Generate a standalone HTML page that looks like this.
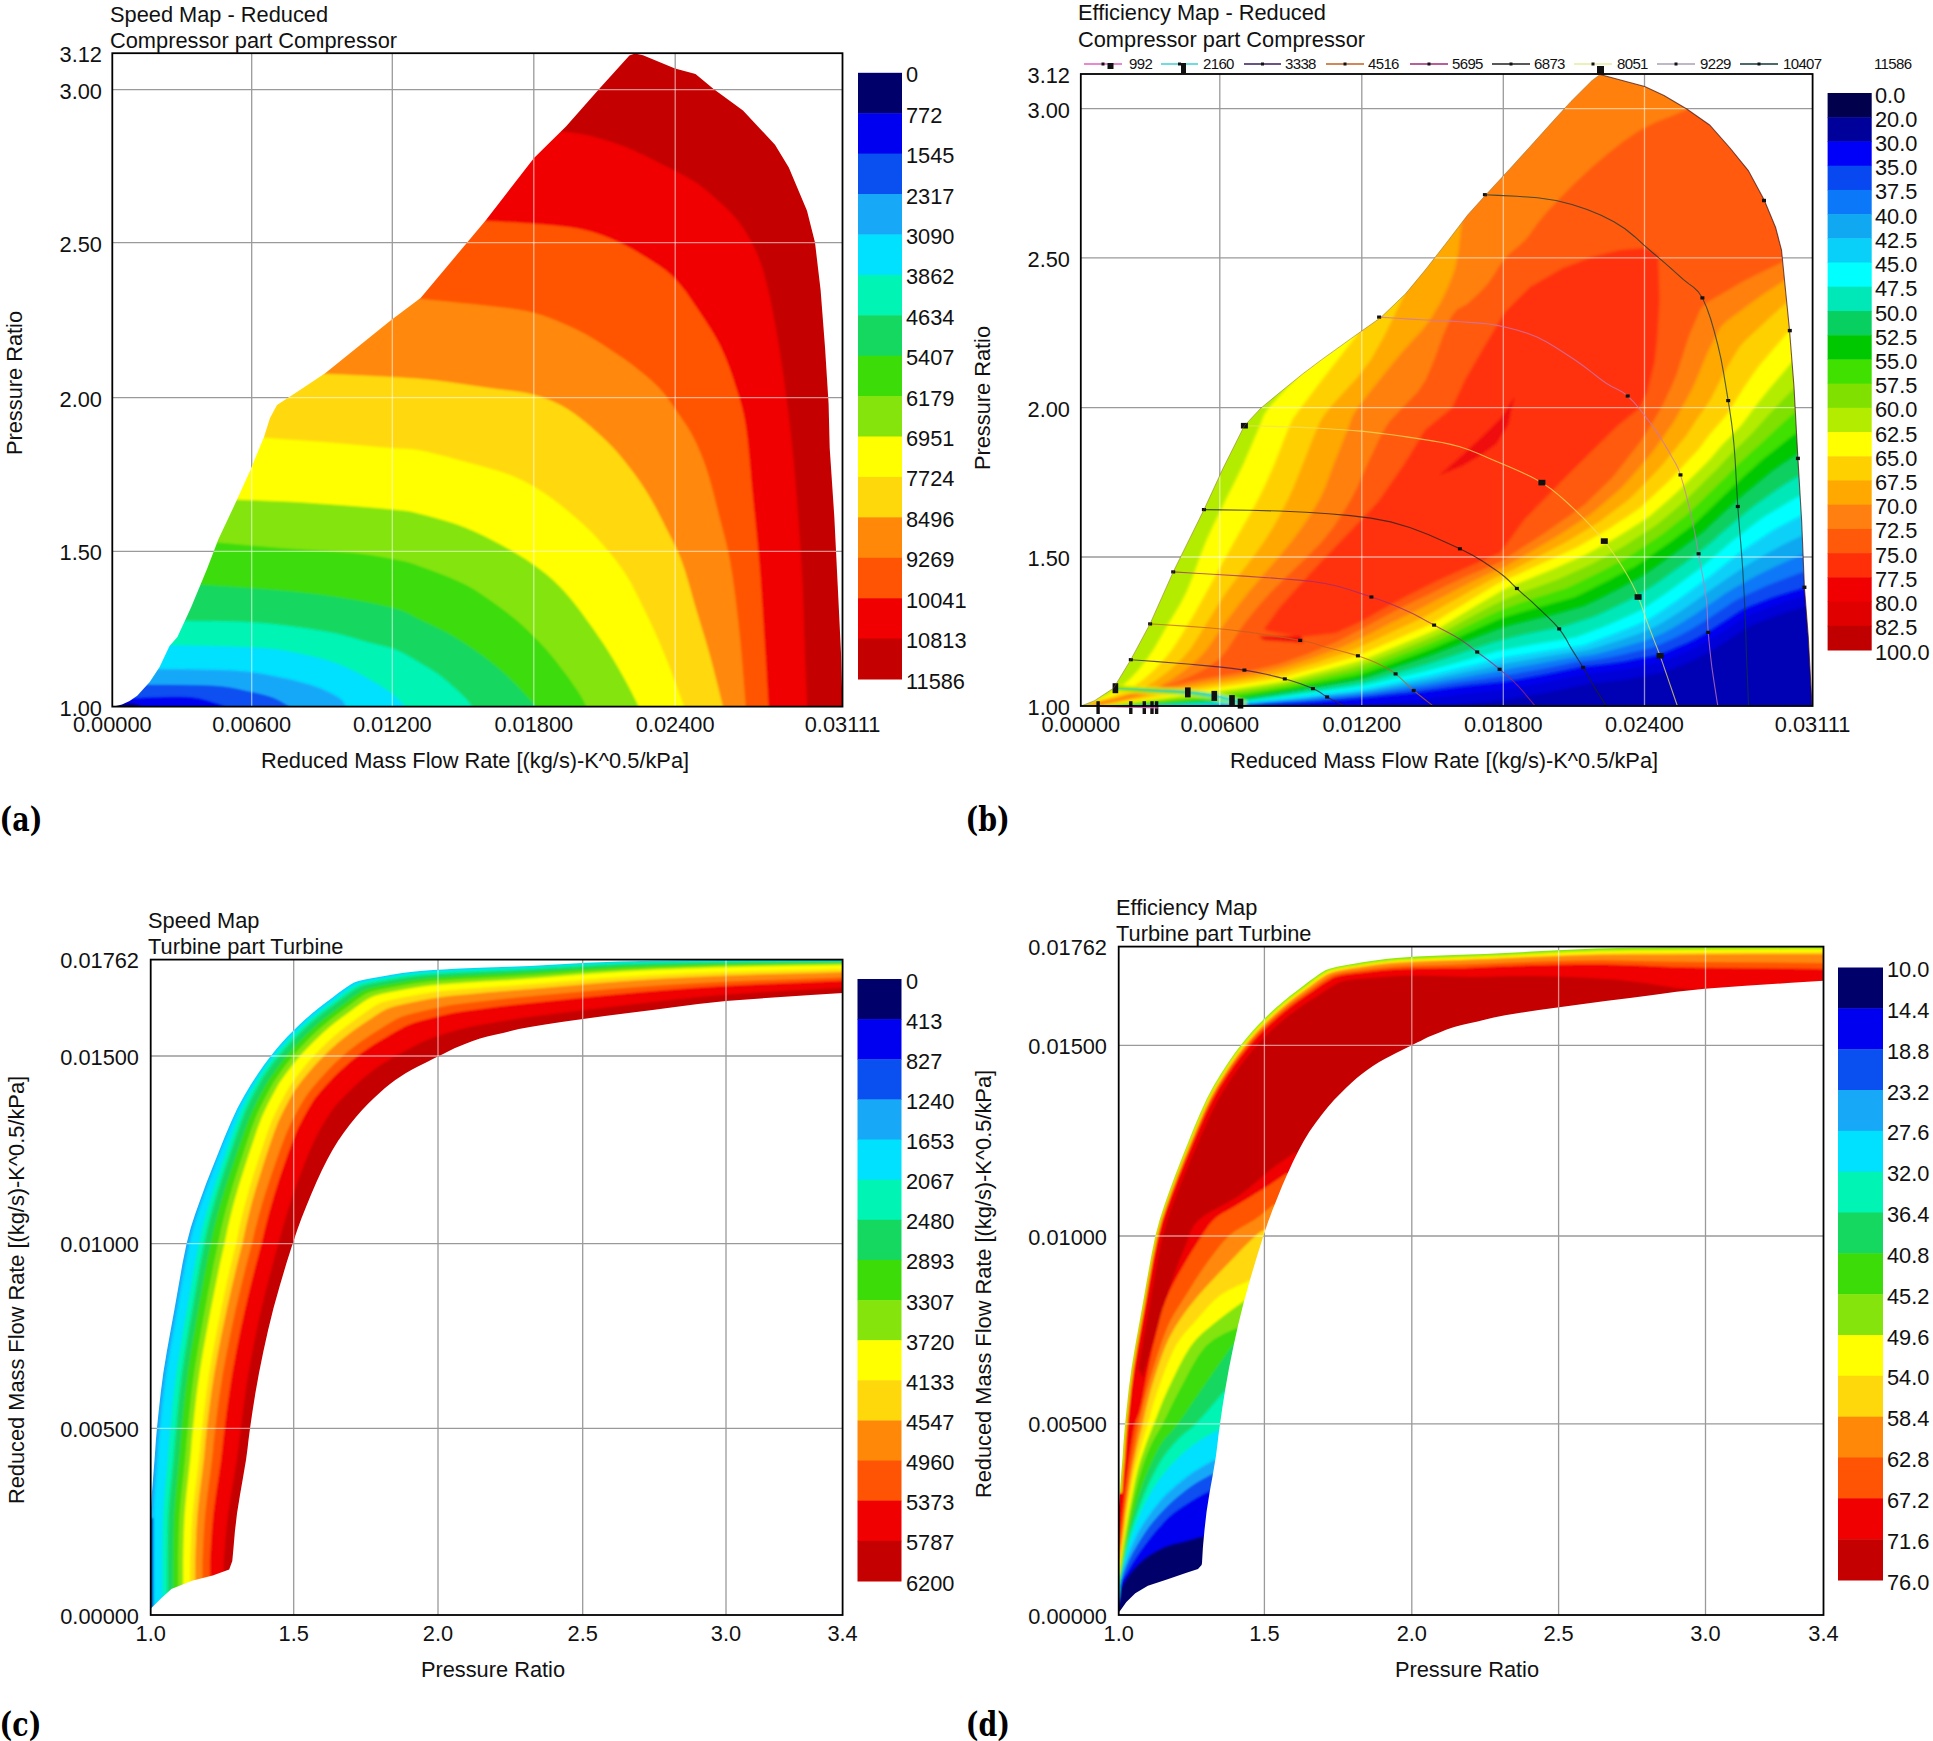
<!DOCTYPE html>
<html><head><meta charset="utf-8"><title>Compressor and turbine maps</title>
<style>
html,body{margin:0;padding:0;background:#fff;}
svg{display:block;font-family:"Liberation Sans",sans-serif;fill:#111;}
.lab{font-family:"DejaVu Serif Condensed","DejaVu Serif","Liberation Serif",serif;font-stretch:condensed;font-weight:bold;fill:#000;}
</style></head><body>
<svg width="1933" height="1741" viewBox="0 0 1933 1741">
<rect width="1933" height="1741" fill="#fff"/>
<defs><filter id="soft" x="-5%" y="-5%" width="110%" height="110%"><feGaussianBlur stdDeviation="0.9"/></filter><filter id="softb" x="-5%" y="-5%" width="110%" height="110%"><feGaussianBlur stdDeviation="1.6"/></filter></defs>
<defs><clipPath id="clipA"><polygon points="114,706.6 122,704.5 129.6,701 137.2,695.8 149.7,682 159.6,667 169.5,646 177.4,637 191,607.6 207,569 218.4,539.3 236.6,500.6 250,471 264,437 270,418 277,405 300,390 325.5,373 390.6,320.5 420.6,298 452.5,260 486,220 534,158 566,126.5 600,88 629.4,55.5 635,53.5 643,55.2 675,68.5 695.5,74 713.6,89 743,110.6 775,144.7 788.8,167.5 807,210.7 815,242.6 820.6,290 825,347 828.6,404 829.7,448 834.3,516.6 837.7,585 841,653 842.5,706.6"/></clipPath></defs>
<line x1="251.7" y1="53.2" x2="251.7" y2="706.6" stroke="#9a9a9a" stroke-width="1.3"/>
<line x1="392.3" y1="53.2" x2="392.3" y2="706.6" stroke="#9a9a9a" stroke-width="1.3"/>
<line x1="533.8" y1="53.2" x2="533.8" y2="706.6" stroke="#9a9a9a" stroke-width="1.3"/>
<line x1="675.2" y1="53.2" x2="675.2" y2="706.6" stroke="#9a9a9a" stroke-width="1.3"/>
<line x1="112.3" y1="89.6" x2="842.5" y2="89.6" stroke="#9a9a9a" stroke-width="1.3"/>
<line x1="112.3" y1="242.6" x2="842.5" y2="242.6" stroke="#9a9a9a" stroke-width="1.3"/>
<line x1="112.3" y1="397.6" x2="842.5" y2="397.6" stroke="#9a9a9a" stroke-width="1.3"/>
<line x1="112.3" y1="551.4" x2="842.5" y2="551.4" stroke="#9a9a9a" stroke-width="1.3"/>
<g clip-path="url(#clipA)"><g filter="url(#soft)">
<rect x="60" y="0" width="860" height="780" fill="#c40000"/>
<polygon points="496.6,131 556.6,131 560.8,131.5 566.6,132.2 573.5,133 580.9,134.2 588,135.6 595.1,137.4 602.5,139.4 610.1,141.8 617.7,144.3 625,147 632,149.9 638.8,153 645.5,156.2 652.2,159.6 659,163 666,166.5 673.1,170.1 680.2,173.7 686.9,177.4 693,181 698.3,184.5 703,188 707.3,191.4 711.6,195.1 716,199 720.6,203.1 725.3,207.4 730,211.9 734.4,216.7 738.7,222 742.8,227.8 746.7,234 750.4,240.5 753.9,247.2 757,254 759.7,260.8 762,267.6 764.1,274.7 766,282.1 768,290 770,298.6 771.8,307.7 773.6,317.2 775.4,326.7 777,336 778.6,345.2 780,354.6 781.4,363.8 782.8,372.9 784,381.5 785.1,389.6 786.2,397.3 787.1,404.8 788.1,412.3 789,420 789.9,427.6 790.8,435.1 791.6,442.7 792.4,450.9 793.3,460 794.2,470.1 795.2,480.9 796.1,492.3 797.1,504.3 798,516.6 798.9,529.5 799.9,543.1 800.8,557.1 801.7,571.2 802.4,585 803,598.9 803.5,612.9 803.9,626.8 804.3,640.3 804.7,653 805.2,665.5 805.7,678.1 806.2,689.8 806.7,699.6 807,706.7 807,760 50,760 50,131" fill="#f00000" stroke="#f00000" stroke-width="0.6"/>
<polygon points="426,221 486,221 492.6,221.4 501.9,221.9 512.7,222.5 523.8,223.2 534,224 543.4,224.8 552.7,225.6 561.9,226.5 570.7,227.6 579,229 586.6,230.7 593.6,232.6 600.2,234.8 606.8,237.2 613.5,240 620.5,243.2 627.5,246.8 634.5,250.6 641.2,254.6 647.6,258.5 653.5,262.3 659.2,265.9 664.5,269.7 669.8,274 675,279 680.2,284.9 685.4,291.6 690.4,298.8 695.3,306 700,313 704.5,319.7 708.8,326.4 712.9,333.1 716.9,339.9 720.5,347 723.8,354.3 726.9,361.8 729.8,369.4 732.5,377.2 735,385 737.4,392.5 739.7,399.7 741.8,407.2 743.7,415.6 745.5,425.5 747.1,437.4 748.5,450.8 749.8,465.2 751,479.7 752.3,493.8 753.7,507.4 755.1,521.1 756.5,534.7 757.8,548.3 759,562 760.1,575.5 761,589 761.9,602.5 762.8,616.2 763.7,630.4 764.7,646.4 765.8,664 766.8,681.3 767.7,696.2 768.3,706.7 768.3,760 50,760 50,221" fill="#ff5404" stroke="#ff5404" stroke-width="0.6"/>
<polygon points="360,299 420,299 429.6,300 443.4,301.3 459.1,302.9 474.7,304.5 488,306 498.6,307.2 508,308.3 516.7,309.4 525.2,310.9 534,313 543.2,315.8 552.6,319.3 561.8,323.1 570.7,327 579,331 586.8,335.1 594.1,339.4 601.1,343.8 607.5,348.1 613.5,352 618.8,355.5 623.3,358.6 627.5,361.6 631.7,364.6 636,368 640.6,371.7 645.4,375.5 650.1,379.5 654.7,383.7 659,388 663,392.5 666.7,397.3 670.2,402.1 673.6,407.1 677,412 680.4,416.8 683.6,421.5 686.8,426.3 690,431.4 693,437 696,443 698.8,449.4 701.6,456.2 704.4,463.4 707,471 709.5,479.3 712,488.2 714.4,497.4 716.7,506.8 719,516 721.3,524.8 723.6,533.3 725.8,542 727.9,551.4 730,562 732,574.1 733.9,587.2 735.7,601.1 737.4,615.5 739,630 740.6,646 742.1,663.7 743.5,681.1 744.7,696.1 745.5,706.7 745.5,760 50,760 50,299" fill="#ff8808" stroke="#ff8808" stroke-width="0.6"/>
<polygon points="265,374 325,374 338.4,374.6 357.5,375.4 379.4,376.5 401.2,377.7 420,379 435.7,380.6 450.2,382.4 463.7,384.4 476.2,386.3 488,388 498.8,389.4 508.6,390.6 517.5,391.7 525.9,393.1 534,395 541.6,397.2 548.5,399.7 555,402.5 561.4,405.7 568,409.6 575,414.3 582.1,419.8 589.2,425.6 595.9,431.5 602,437 607.3,442 612,446.8 616.4,451.6 620.6,456.6 625,462 629.6,467.9 634.3,474.1 638.9,480.6 643.4,487.2 647.6,493.8 651.6,500.5 655.3,507.3 658.9,514.2 662.4,521.1 665.8,528 669.2,534.6 672.5,541.1 675.7,547.6 678.8,554.5 681.8,562 684.7,570.4 687.4,579.4 690.1,588.8 692.7,598.3 695.4,607.6 698.1,616.6 700.8,625.4 703.5,634.3 706.3,643.4 709,653 712,664.1 715.2,676.5 718.3,688.7 720.9,699.3 722.8,706.7 722.8,760 50,760 50,374" fill="#ffd80c" stroke="#ffd80c" stroke-width="0.6"/>
<polygon points="204,438 264,438 272.6,438.6 284.8,439.5 299,440.5 313.8,441.5 327.6,442.6 341,443.7 355,445 368.8,446.2 381.4,447.4 392,448.3 399.6,448.8 405,449 409.3,449.2 413.9,449.6 420,450.6 428,452.3 436.9,454.4 446.5,456.8 456.1,459.4 465.5,462 474.8,464.5 484.3,467.1 493.6,469.7 502.6,472.6 511,475.6 518.5,478.8 525.4,482.1 531.9,485.7 538.4,489.5 545,493.8 552,498.7 559.3,504.2 566.4,510 573.2,515.7 579.3,521 584.6,525.8 589.2,530.2 593.5,534.5 597.6,539.1 602,544 606.7,549.4 611.4,555.1 616.1,561.1 620.7,567.2 625,573.5 629,580 632.7,586.8 636.2,593.7 639.6,600.7 643,607.6 646.4,614.4 649.7,621.3 652.9,628.1 656,635 659,641.8 661.9,648.7 664.8,655.6 667.5,662.6 670.2,669.4 672.7,676 675.3,682.9 677.9,690 680.4,696.8 682.5,702.6 684,706.7 684,760 50,760 50,438" fill="#ffff00" stroke="#ffff00" stroke-width="0.6"/>
<polygon points="176.6,500 236.6,500 245.6,500.3 258.1,500.8 273,501.4 289,502.1 305,503 322.2,504.2 341.3,505.6 360.6,507.1 378.1,508.5 392,509.8 401.1,510.7 406.6,511.3 410.4,511.9 414.2,512.8 420,514.3 428,516.3 436.9,518.7 446.5,521.4 456.1,524.5 465.5,528 474.8,532 484.3,536.4 493.6,541.2 502.6,546 511,550.7 518.7,555.3 526,559.8 532.7,564.4 539.1,569 545,573.5 550.3,577.9 555,582.2 559.3,586.5 563.6,591 568,596 572.6,601.5 577.3,607.5 582,613.7 586.4,619.9 590.7,625.8 594.7,631.4 598.4,636.9 602.1,642.2 605.6,647.6 609,653 612.4,658.5 615.7,664 618.9,669.6 622,675.1 625,680.5 628.1,686.2 631.2,692.3 634.2,698.2 636.7,703.2 638.5,706.7 638.5,760 50,760 50,500" fill="#84e40c" stroke="#84e40c" stroke-width="0.6"/>
<polygon points="157,542.8 217,542.8 225.8,543.6 238.2,544.7 252.6,546 267.7,547.3 282,548.5 295.8,549.4 310.2,550.3 324.5,551.1 338.1,552 350.4,553 361.3,554.2 371.3,555.6 380.4,557.1 388.6,558.6 396,560 401.8,561.2 406.1,562.1 409.9,563.2 414.2,564.6 420,566.7 427.9,569.5 437.2,573 447.1,576.8 456.8,580.9 465.5,585 473.2,589.3 480.5,593.9 487.4,598.7 493.8,603.3 499.7,607.6 505,611.4 509.6,615 513.9,618.4 518.1,621.9 522.4,625.8 527,630.1 531.6,634.6 536.3,639.3 540.8,644 545,648.6 549,653.2 552.8,657.7 556.4,662.3 559.9,666.9 563.4,671.4 566.9,676.1 570.4,680.9 573.7,685.7 576.7,690.1 579.3,694 581.3,697.4 583,700.4 584.2,703 585.2,705.1 586,706.7 586,760 50,760 50,542.8" fill="#3cdc08" stroke="#3cdc08" stroke-width="0.6"/>
<polygon points="140,585 200,585 207.9,585.5 218.9,586.2 231.8,587 245.6,587.9 259,589 272.2,590.1 286.1,591.3 300.3,592.7 314.4,594.2 328,596 341.7,598.1 355.7,600.4 369.2,603 381.6,605.5 392,608 399.8,610.3 405.5,612.6 410.1,614.8 414.6,617.3 420,620 426.4,623 433.2,626.2 440.1,629.5 447.1,633.1 454,637 461,641.3 468.1,645.9 475.2,650.7 481.9,655.5 488,660 493.4,664.2 498.2,668.3 502.7,672.2 506.9,676.1 511,680 515.1,684 519.1,688.2 522.8,692.3 526.2,695.9 529,699 531.2,701.4 532.9,703.3 534.2,704.7 535.2,705.8 536,706.7 536,760 50,760 50,585" fill="#14d860" stroke="#14d860" stroke-width="0.6"/>
<polygon points="126,621 186,621 196,621.2 210.2,621.3 226.6,621.6 243.5,622.1 259,623 273.4,624.3 288,626 302.3,627.9 315.6,630 327.6,632 338,634.1 347.2,636.4 355.5,638.8 363,641 370,643 376.3,644.6 381.7,645.8 386.5,647 391.2,648.3 396,650 400.9,652.2 405.8,654.7 410.6,657.4 415.3,660.2 420,663 424.7,665.8 429.3,668.6 433.9,671.5 438.5,674.6 443,678 447.7,681.9 452.6,686.2 457.3,690.6 461.6,694.6 465,698 467.5,700.6 469.2,702.7 470.4,704.4 471.3,705.7 472,706.7 472,760 50,760 50,621" fill="#00f4b4" stroke="#00f4b4" stroke-width="0.6"/>
<polygon points="109.5,645.5 169.5,645.5 182.4,645.8 200.9,646.1 222,646.6 242.5,647.2 259,648 271.2,649.1 281.1,650.3 289.5,651.8 297.2,653.3 305,655 312.8,656.7 320,658.5 326.9,660.5 333.5,662.6 340,665 346.4,667.7 352.7,670.7 358.8,673.8 364.6,677 370,680 375.1,682.9 379.8,685.7 384.2,688.5 388.3,691.3 392,694 395.4,696.8 398.5,699.8 401.2,702.6 403.4,705 405,706.7 405,760 50,760 50,645.5" fill="#00e0ff" stroke="#00e0ff" stroke-width="0.6"/>
<polygon points="97.7,669.3 157.7,669.3 169,669.4 185.2,669.6 203.7,669.9 221.7,670.3 236.6,671 248,672 257.7,673.3 266.3,674.8 274.2,676.4 282,678 289.7,679.6 296.9,681.4 303.7,683.2 310.1,685 316,687 321.6,689.1 326.8,691.4 331.5,693.7 335.6,695.9 339,698 341.5,700 343.2,702.1 344.3,704 345.1,705.6 345.8,706.7 345.8,760 50,760 50,669.3" fill="#18a8f8" stroke="#18a8f8" stroke-width="0.6"/>
<polygon points="87.3,685 147.3,685 156.9,685.1 170.7,685.1 186.5,685.2 201.7,685.5 214,686 223,686.8 230.4,687.8 236.6,689 242.3,690.3 248,691.5 253.7,692.7 259.1,693.9 264.1,695.2 268.7,696.5 273,698 277,699.7 280.8,701.7 284.2,703.7 287,705.5 289,706.7 289,760 50,760 50,685" fill="#0a50f0" stroke="#0a50f0" stroke-width="0.6"/>
<polygon points="74,698.3 134,698.3 140.6,698.1 150.2,697.7 161.1,697.3 171.6,697 180,697 186,697.2 190.6,697.5 194.6,698 198.3,698.6 202.4,699.5 207.3,700.8 212.5,702.4 217.6,704.1 221.9,705.6 225,706.7 225,760 50,760 50,698.3" fill="#0000f0" stroke="#0000f0" stroke-width="0.6"/>
<polygon points="64,704 124,704 125.2,704 127,703.9 129,703.8 131.1,703.8 133,704 134.9,704.4 137,705 139,705.7 140.8,706.3 142,706.7 142,760 50,760 50,704" fill="#00006a" stroke="#00006a" stroke-width="0.6"/>
</g></g>
<g clip-path="url(#clipA)" stroke="#ffffff" stroke-opacity="0.55" stroke-width="1.3">
<line x1="251.7" y1="53.2" x2="251.7" y2="706.6"/>
<line x1="392.3" y1="53.2" x2="392.3" y2="706.6"/>
<line x1="533.8" y1="53.2" x2="533.8" y2="706.6"/>
<line x1="675.2" y1="53.2" x2="675.2" y2="706.6"/>
<line x1="112.3" y1="89.6" x2="842.5" y2="89.6"/>
<line x1="112.3" y1="242.6" x2="842.5" y2="242.6"/>
<line x1="112.3" y1="397.6" x2="842.5" y2="397.6"/>
<line x1="112.3" y1="551.4" x2="842.5" y2="551.4"/>
</g>
<rect x="112.3" y="53.2" width="730.2" height="653.4" fill="none" stroke="#000" stroke-width="1.8"/>
<text x="110" y="22" font-size="21.8" text-anchor="start">Speed Map - Reduced</text>
<text x="110" y="48" font-size="21.8" text-anchor="start">Compressor part Compressor</text>
<text x="102" y="62.2" font-size="21.8" text-anchor="end">3.12</text>
<text x="102" y="98.6" font-size="21.8" text-anchor="end">3.00</text>
<text x="102" y="251.6" font-size="21.8" text-anchor="end">2.50</text>
<text x="102" y="406.6" font-size="21.8" text-anchor="end">2.00</text>
<text x="102" y="560.4" font-size="21.8" text-anchor="end">1.50</text>
<text x="102" y="715.6" font-size="21.8" text-anchor="end">1.00</text>
<text x="112.3" y="731.5" font-size="21.8" text-anchor="middle">0.00000</text>
<text x="251.7" y="731.5" font-size="21.8" text-anchor="middle">0.00600</text>
<text x="392.3" y="731.5" font-size="21.8" text-anchor="middle">0.01200</text>
<text x="533.8" y="731.5" font-size="21.8" text-anchor="middle">0.01800</text>
<text x="675.2" y="731.5" font-size="21.8" text-anchor="middle">0.02400</text>
<text x="842.5" y="731.5" font-size="21.8" text-anchor="middle">0.03111</text>
<text x="475" y="768" font-size="21.8" text-anchor="middle">Reduced Mass Flow Rate [(kg/s)-K^0.5/kPa]</text>
<text transform="translate(21.5,383) rotate(-90)" font-size="21.8" text-anchor="middle">Pressure Ratio</text>
<rect x="858" y="72.8" width="44" height="40.9" fill="#00006a"/>
<rect x="858" y="113.2" width="44" height="40.9" fill="#0000f0"/>
<rect x="858" y="153.6" width="44" height="40.9" fill="#0a50f0"/>
<rect x="858" y="194" width="44" height="40.9" fill="#18a8f8"/>
<rect x="858" y="234.5" width="44" height="40.9" fill="#00e0ff"/>
<rect x="858" y="274.9" width="44" height="40.9" fill="#00f4b4"/>
<rect x="858" y="315.3" width="44" height="40.9" fill="#14d860"/>
<rect x="858" y="355.7" width="44" height="40.9" fill="#3cdc08"/>
<rect x="858" y="396.1" width="44" height="40.9" fill="#84e40c"/>
<rect x="858" y="436.5" width="44" height="40.9" fill="#ffff00"/>
<rect x="858" y="476.9" width="44" height="40.9" fill="#ffd80c"/>
<rect x="858" y="517.3" width="44" height="40.9" fill="#ff8808"/>
<rect x="858" y="557.8" width="44" height="40.9" fill="#ff5404"/>
<rect x="858" y="598.2" width="44" height="40.9" fill="#f00000"/>
<rect x="858" y="638.6" width="44" height="40.9" fill="#c40000"/>
<text x="906" y="82.3" font-size="21.8" text-anchor="start">0</text>
<text x="906" y="122.7" font-size="21.8" text-anchor="start">772</text>
<text x="906" y="163.1" font-size="21.8" text-anchor="start">1545</text>
<text x="906" y="203.5" font-size="21.8" text-anchor="start">2317</text>
<text x="906" y="244" font-size="21.8" text-anchor="start">3090</text>
<text x="906" y="284.4" font-size="21.8" text-anchor="start">3862</text>
<text x="906" y="324.8" font-size="21.8" text-anchor="start">4634</text>
<text x="906" y="365.2" font-size="21.8" text-anchor="start">5407</text>
<text x="906" y="405.6" font-size="21.8" text-anchor="start">6179</text>
<text x="906" y="446" font-size="21.8" text-anchor="start">6951</text>
<text x="906" y="486.4" font-size="21.8" text-anchor="start">7724</text>
<text x="906" y="526.8" font-size="21.8" text-anchor="start">8496</text>
<text x="906" y="567.3" font-size="21.8" text-anchor="start">9269</text>
<text x="906" y="607.7" font-size="21.8" text-anchor="start">10041</text>
<text x="906" y="648.1" font-size="21.8" text-anchor="start">10813</text>
<text x="906" y="688.5" font-size="21.8" text-anchor="start">11586</text>
<text transform="translate(-0.4,831) scale(0.91,1)" font-size="32.8" class="lab">(a)</text>
<defs><clipPath id="clipB"><polygon points="1080.8,706 1094.2,700.9 1113.5,688.2 1130.8,659.7 1150,623.9 1173.2,571.9 1204,509.6 1223.2,468 1244.4,425.7 1261,408 1282,390.7 1302.6,374 1321.3,359.9 1356,335 1380.7,317.6 1405.5,293.8 1426,269 1447,242 1467.6,215 1485.2,195.5 1509,169.7 1529.7,147 1550.4,124 1571,101.4 1591.8,80.7 1600,74.5 1644.7,86.4 1664,95.5 1686.8,109 1709.6,125 1730,148 1748.3,170.6 1764.2,200 1775.6,227.5 1781.5,250 1785.5,290 1789.5,330 1794,387 1797.9,458.4 1801.7,521.9 1804.4,587.3 1808.3,637.4 1812,706"/></clipPath></defs>
<line x1="1219.8" y1="74" x2="1219.8" y2="706" stroke="#9a9a9a" stroke-width="1.3"/>
<line x1="1361.8" y1="74" x2="1361.8" y2="706" stroke="#9a9a9a" stroke-width="1.3"/>
<line x1="1503.3" y1="74" x2="1503.3" y2="706" stroke="#9a9a9a" stroke-width="1.3"/>
<line x1="1644.5" y1="74" x2="1644.5" y2="706" stroke="#9a9a9a" stroke-width="1.3"/>
<line x1="1080.8" y1="108.7" x2="1812.6" y2="108.7" stroke="#9a9a9a" stroke-width="1.3"/>
<line x1="1080.8" y1="257.9" x2="1812.6" y2="257.9" stroke="#9a9a9a" stroke-width="1.3"/>
<line x1="1080.8" y1="407.6" x2="1812.6" y2="407.6" stroke="#9a9a9a" stroke-width="1.3"/>
<line x1="1080.8" y1="557" x2="1812.6" y2="557" stroke="#9a9a9a" stroke-width="1.3"/>
<g clip-path="url(#clipB)"><g filter="url(#softb)">
<rect x="1000" y="0" width="900" height="780" fill="#0000b4"/>
<polygon points="1000,720 1206,724.5 1254,722.3 1312,720 1367.5,715.5 1427.4,709.3 1465.9,704 1509,699.4 1551,692 1586,684.6 1625,679.9 1665.7,672 1695.4,659.6 1714,649.4 1750,626 1781,614 1811,604.9 1836,598 1950,598 1950,0 1000,0" fill="#0000d8"/>
<polygon points="1000,720 1203,714.5 1251,712.3 1309,710 1364.5,705.5 1424.4,699.3 1462.9,694 1506,689.4 1548,682 1583,674.6 1622,669.9 1662.7,662 1692.4,649.6 1711,639.4 1747,616 1778,604 1808,594.9 1833,588 1950,588 1950,0 1000,0" fill="#0000f0"/>
<polygon points="1000,720 1200,706.5 1200,706.5 1200,706.5 1200,706.5 1200,706.5 1200,706.5 1200,706.5 1200,706.5 1204.8,706.3 1217.2,705.7 1229.6,705.1 1242,704.6 1254.4,704 1266.8,703.6 1279.3,703.1 1291.7,702.6 1304.2,702.1 1316.2,701.2 1328.2,700.2 1340.2,699.2 1352.1,698.3 1364.1,697.2 1375.8,696 1387.5,694.8 1399.3,693.6 1411,692.4 1422.7,691.1 1434.1,689.6 1445.4,688 1456.8,686.4 1468.4,685.1 1480.1,683.8 1491.8,682.6 1503.5,681.3 1514.5,679.4 1525.5,677.4 1536.5,675.5 1547.4,673.5 1558.1,671.2 1568.8,669 1579.5,666.7 1591,665.3 1602.5,663.9 1614.1,662.5 1625.2,660.7 1636.1,658.6 1646.9,656.5 1657.8,654.4 1667.2,650.9 1676.3,647.1 1685.5,643.2 1694.2,639 1702.5,634.4 1710.7,629.6 1718.5,624.5 1726.4,619.4 1734.2,614.3 1742.1,609.2 1751,605.3 1760.4,601.7 1769.7,598 1779.3,594.7 1789.2,591.7 1799.2,588.7 1809.2,585.7 1819.3,582.9 1829.5,580.1 1839.6,577.3 1849.8,574.5 1859.9,571.7 1870.1,568.9 1880.2,566.1 1890.3,563.3 1900.5,560.5 1910.6,557.7 1920.8,554.9 1930.9,552.1 1941.1,549.3 1951.2,546.5 1961.4,543.7 1971.5,540.9 1981.6,538.1 1991.8,535.3 2001.9,532.5 2012.1,529.7 2022.2,526.9 2032.4,524.1 2042.5,521.3 2052.7,518.5 2062.8,515.7 2072.9,512.9 1950,512.9 1950,0 1000,0" fill="#0848f0" stroke="#0848f0" stroke-width="0.6"/>
<polygon points="1000,720 1188.9,706.4 1188.9,706.4 1188.9,706.4 1188.9,706.4 1189.5,706.4 1192.3,706.3 1195.1,706.2 1197.8,706.1 1204.4,705.8 1216.8,705.3 1229.2,704.8 1241.6,704.2 1253.8,703.5 1266.1,702.8 1278.3,702.1 1290.6,701.4 1302.8,700.7 1314.7,699.7 1326.6,698.6 1338.5,697.5 1350.3,696.5 1362.2,695.3 1373.8,694 1385.2,692.5 1396.7,691.1 1408.2,689.6 1419.7,688.1 1430.9,686.4 1442.1,684.6 1453.2,682.8 1464.6,681.2 1475.9,679.7 1487.3,678.1 1498.7,676.5 1509.6,674.4 1520.4,672.4 1531.5,670.5 1542.5,668.5 1553.3,666.4 1564.1,664.2 1574.9,662.1 1586.4,660.6 1597.8,659.1 1608.8,657.2 1619.6,655 1630,652.5 1640.5,650.1 1651,647.6 1660.3,644 1669.4,640.1 1678.2,636 1686.7,631.5 1694.9,626.8 1702.9,621.9 1710.7,616.7 1718.4,611.5 1726.2,606.3 1733.9,601.1 1742.4,596.7 1751.2,592.5 1760,588.4 1769,584.4 1778.4,580.8 1787.8,577.3 1797.2,573.8 1806.8,570.4 1816.4,567 1826.1,563.8 1835.9,560.6 1845.6,557.4 1855.4,554.3 1865.3,551.2 1875.1,548.1 1885,545 1894.8,541.9 1904.7,538.8 1914.5,535.7 1924.4,532.6 1934.2,529.5 1944.1,526.4 1953.9,523.3 1963.7,520.2 1973.6,517.2 1983.4,514.1 1993.3,511 2003.1,507.9 2013,504.8 2022.8,501.7 2032.7,498.6 2042.5,495.5 2052.4,492.4 1950,492.4 1950,0 1000,0" fill="#0a78f8" stroke="#0a78f8" stroke-width="0.6"/>
<polygon points="1000,720 1177.8,706.3 1177.8,706.3 1177.8,706.3 1177.8,706.3 1179,706.2 1184.5,706.1 1190.1,705.9 1195.7,705.7 1203.9,705.4 1216.4,704.9 1228.8,704.4 1241.3,703.9 1253.3,703 1265.4,702.1 1277.4,701.2 1289.4,700.3 1301.5,699.3 1313.2,698.2 1325,697 1336.8,695.8 1348.5,694.7 1360.3,693.5 1371.7,692 1383,690.2 1394.2,688.5 1405.4,686.8 1416.7,685.1 1427.7,683.2 1438.7,681.3 1449.6,679.3 1460.7,677.4 1471.8,675.5 1482.9,673.6 1493.9,671.8 1504.6,669.5 1515.3,667.3 1526.4,665.4 1537.5,663.5 1548.4,661.5 1559.3,659.5 1570.3,657.5 1581.7,656 1593.1,654.4 1603.6,652 1613.9,649.3 1624,646.5 1634.1,643.6 1644.2,640.8 1653.4,637.1 1662.5,633.2 1670.9,628.7 1679.2,624 1687.2,619.1 1695.1,614.1 1702.8,608.8 1710.4,603.5 1718.1,598.2 1725.8,592.9 1733.8,588 1742.1,583.4 1750.4,578.7 1758.8,574.2 1767.5,570 1776.3,565.8 1785.2,561.8 1794.2,557.8 1803.3,553.9 1812.6,550.3 1822,546.7 1831.3,543.1 1840.8,539.7 1850.3,536.3 1859.9,532.9 1869.4,529.5 1879,526.1 1888.5,522.7 1898.1,519.3 1907.6,515.9 1917.2,512.5 1926.7,509.1 1936.3,505.7 1945.8,502.3 1955.4,499 1965,495.6 1974.5,492.2 1984.1,488.8 1993.6,485.4 2003.2,482 2012.7,478.6 2022.3,475.2 2031.8,471.8 1950,471.8 1950,0 1000,0" fill="#10a8f0" stroke="#10a8f0" stroke-width="0.6"/>
<polygon points="1000,720 1166.7,706.2 1166.7,706.2 1166.7,706.2 1166.7,706.2 1168.5,706.1 1176.8,705.8 1185.2,705.6 1193.5,705.3 1203.5,704.9 1216,704.5 1228.4,704 1240.9,703.5 1252.8,702.4 1264.6,701.3 1276.5,700.2 1288.3,699.1 1300.1,698 1311.7,696.7 1323.4,695.4 1335.1,694.1 1346.7,692.9 1358.4,691.6 1369.7,689.9 1380.7,688 1391.7,686 1402.7,684.1 1413.6,682.1 1424.5,680 1435.4,677.9 1446.1,675.7 1456.8,673.5 1467.6,671.3 1478.4,669.2 1489.2,667 1499.7,664.6 1510.3,662.2 1521.4,660.4 1532.5,658.6 1543.5,656.6 1554.6,654.8 1565.7,652.9 1577.1,651.4 1588.3,649.6 1598.3,646.7 1608.2,643.6 1618,640.5 1627.7,637.2 1637.3,634 1646.6,630.2 1655.5,626.2 1663.7,621.4 1671.7,616.5 1679.6,611.4 1687.3,606.3 1694.9,600.9 1702.5,595.5 1710,590.1 1717.6,584.8 1725.2,579.4 1732.9,574.2 1740.7,569 1748.5,563.9 1756.6,559.1 1764.9,554.4 1773.2,549.8 1781.6,545.2 1790.2,540.8 1799.1,536.8 1808.1,532.8 1817,528.8 1826.1,525 1835.4,521.3 1844.7,517.7 1853.9,514 1863.2,510.3 1872.4,506.6 1881.7,502.9 1890.9,499.2 1900.2,495.5 1909.4,491.8 1918.7,488.1 1928,484.5 1937.2,480.8 1946.5,477.1 1955.7,473.4 1965,469.7 1974.2,466 1983.5,462.3 1992.7,458.6 2002,454.9 2011.3,451.3 1950,451.3 1950,0 1000,0" fill="#08d0f8" stroke="#08d0f8" stroke-width="0.6"/>
<polygon points="1000,720 1155.6,706.1 1155.6,706.1 1155.6,706.1 1155.6,706.1 1157.9,706 1169.1,705.6 1180.2,705.2 1191.4,704.9 1203,704.5 1215.5,704 1228.1,703.6 1240.6,703.2 1252.2,701.9 1263.9,700.6 1275.5,699.3 1287.1,698 1298.7,696.6 1310.3,695.2 1321.8,693.8 1333.4,692.4 1344.9,691.1 1356.5,689.7 1367.7,687.9 1378.4,685.7 1389.2,683.5 1399.9,681.3 1410.6,679.1 1421.3,676.8 1432,674.6 1442.5,672.1 1452.9,669.6 1463.4,667.1 1473.9,664.7 1484.4,662.2 1494.8,659.7 1505.2,657.1 1516.3,655.3 1527.5,653.6 1538.7,651.8 1549.8,650 1561.1,648.3 1572.5,646.7 1583.6,644.9 1593.1,641.5 1602.5,638 1611.9,634.4 1621.3,630.8 1630.5,627.2 1639.7,623.3 1648.6,619.3 1656.4,614.2 1664.2,609 1671.9,603.8 1679.6,598.5 1687,593 1694.5,587.6 1702,582.1 1709.4,576.6 1716.6,570.8 1723.8,565.1 1731,559.3 1738.2,553.6 1745.8,548.2 1753.5,543 1761.3,537.8 1769,532.6 1777,527.7 1785.6,523.3 1794.1,518.9 1802.7,514.5 1811.5,510.4 1820.5,506.4 1829.4,502.4 1838.4,498.4 1847.3,494.5 1856.3,490.5 1865.3,486.5 1874.2,482.5 1883.2,478.5 1892.1,474.5 1901.1,470.5 1910.1,466.6 1919,462.6 1928,458.6 1936.9,454.6 1945.9,450.6 1954.8,446.6 1963.8,442.6 1972.8,438.7 1981.7,434.7 1990.7,430.7 1950,430.7 1950,0 1000,0" fill="#00ffff" stroke="#00ffff" stroke-width="0.6"/>
<polygon points="1000,720 1145,706 1145,706 1146.1,705.9 1148.1,705.8 1152.4,705.6 1164.8,705.1 1177.3,704.6 1189.8,704.1 1202.2,703.7 1214.7,703.2 1227.1,702.7 1239.6,702.2 1251.2,700.8 1262.6,699.4 1274.1,697.9 1285.6,696.4 1297,694.8 1308.4,693.3 1319.8,691.8 1331.2,690.2 1342.6,688.7 1354,687.2 1365.1,685.3 1375.6,682.9 1386,680.4 1396.5,677.9 1406.9,675.4 1417.4,672.9 1427.8,670.3 1438,667.6 1448.1,664.8 1458.3,662 1468.4,659.2 1478.5,656.3 1488.6,653.5 1498.7,650.7 1509.6,648.6 1520.4,646.5 1531.3,644.5 1542.4,642.6 1553.6,640.8 1564.7,639 1575.6,637 1585.1,633.5 1594.5,629.9 1603.9,626.4 1613,622.5 1622,618.6 1631,614.6 1639.8,610.5 1647.6,605.4 1655.4,600.2 1663.2,595.1 1670.8,589.7 1678.2,584.2 1685.7,578.8 1693.1,573.3 1700.6,567.7 1707.6,561.8 1714.6,555.9 1721.6,550 1728.5,543.9 1735.7,538.1 1743,532.5 1750.3,526.8 1757.6,521.2 1765.2,515.8 1773.3,511 1781.4,506.2 1789.5,501.3 1797.8,496.7 1806.4,492.3 1815,488 1823.6,483.6 1832.2,479.3 1840.8,474.9 1849.4,470.6 1858,466.3 1866.6,461.9 1875.2,457.6 1883.8,453.3 1892.5,449 1901.1,444.6 1909.7,440.3 1918.3,436 1926.9,431.6 1935.5,427.3 1944.2,423 1952.8,418.7 1961.4,414.3 1970,410 1950,410 1950,0 1000,0" fill="#00e8b8" stroke="#00e8b8" stroke-width="0.6"/>
<polygon points="1000,720 1135,706 1135,706 1138.2,705.8 1144.3,705.4 1151.7,704.9 1164,704.3 1176.4,703.7 1188.7,703.1 1201,702.5 1213.4,701.9 1225.7,701.3 1238,700.6 1249.5,699.2 1260.9,697.6 1272.2,696 1283.5,694.3 1294.8,692.7 1306,691 1317.3,689.3 1328.5,687.5 1339.7,685.8 1350.9,684.1 1362,682.2 1372.3,679.6 1382.4,676.7 1392.4,673.8 1402.5,670.9 1412.6,668.1 1422.6,665.2 1432.5,662.2 1442.4,659 1452.1,655.8 1461.8,652.6 1471.5,649.3 1481.2,646.1 1490.9,642.9 1501,640 1511.2,637.2 1521.6,634.7 1532.3,632.5 1543.1,630.3 1553.9,628.2 1564.6,625.9 1574.3,622.7 1584.1,619.5 1593.9,616.4 1602.8,612.4 1611.6,608.2 1620.4,604.1 1629.1,599.9 1637.2,595 1645.3,590.2 1653.4,585.3 1661.1,580 1668.6,574.6 1676.1,569.1 1683.6,563.7 1691,558.2 1698.2,552.4 1705.4,546.7 1712.6,540.9 1719.3,534.7 1726.3,528.7 1733.3,522.8 1740.3,516.9 1747.3,510.9 1754.5,505.2 1762.1,499.9 1769.7,494.5 1777.3,489.2 1785.1,483.9 1793.1,479.1 1801.3,474.3 1809.4,469.5 1817.6,464.7 1825.8,460 1834,455.3 1842.3,450.6 1850.5,445.8 1858.7,441.1 1867,436.4 1875.2,431.7 1883.4,427 1891.6,422.2 1899.9,417.5 1908.1,412.8 1916.3,408.1 1924.5,403.4 1932.8,398.6 1941,393.9 1949.2,389.2 1950,389.2 1950,0 1000,0" fill="#08d060" stroke="#08d060" stroke-width="0.6"/>
<polygon points="1000,720 1125,706 1125,706 1130.4,705.6 1140.5,705 1151.1,704.3 1163.3,703.5 1175.5,702.8 1187.7,702 1199.9,701.3 1212.1,700.6 1224.3,699.8 1236.5,699.1 1247.9,697.6 1259.1,695.8 1270.3,694.1 1281.5,692.3 1292.6,690.5 1303.7,688.7 1314.8,686.8 1325.8,684.9 1336.8,682.9 1347.9,681 1358.8,679 1369,676.3 1378.7,673 1388.4,669.8 1398.1,666.5 1407.8,663.3 1417.5,660 1427.1,656.7 1436.6,653.3 1445.9,649.6 1455.2,646 1464.5,642.3 1473.8,638.7 1483.1,635 1492.5,631.5 1502,628 1511.8,624.9 1522.2,622.4 1532.6,619.8 1543.1,617.3 1553.5,614.8 1563.6,612 1573.7,609.1 1583.8,606.3 1592.6,602.2 1601.3,597.9 1609.9,593.6 1618.5,589.2 1626.9,584.6 1635.3,580.1 1643.6,575.5 1651.3,570.3 1658.9,564.9 1666.4,559.5 1674,554.1 1681.5,548.6 1688.8,543 1696.2,537.5 1703.5,531.9 1710.2,525.6 1716.9,519.3 1723.6,513.1 1730.3,506.9 1737.1,500.7 1743.9,494.6 1751,488.7 1758.1,482.9 1765.2,477 1772.3,471.2 1779.9,465.8 1787.6,460.6 1795.3,455.4 1803,450.2 1810.9,445 1818.7,439.9 1826.6,434.8 1834.4,429.7 1842.2,424.6 1850.1,419.5 1857.9,414.4 1865.7,409.3 1873.6,404.2 1881.4,399.1 1889.2,393.9 1897.1,388.8 1904.9,383.7 1912.7,378.6 1920.6,373.5 1928.4,368.4 1950,368.4 1950,0 1000,0" fill="#00c800" stroke="#00c800" stroke-width="0.6"/>
<polygon points="1000,720 1117.6,706 1119,705.8 1126.1,705.2 1138.1,704.3 1150.2,703.4 1162.2,702.5 1174.3,701.6 1186.3,700.7 1198.3,699.8 1210.4,698.9 1222.4,697.9 1234.4,697 1245.9,695.5 1257,693.7 1268.1,691.9 1279.2,690.1 1290.3,688.2 1301.2,686.2 1312.1,684.1 1322.9,682 1333.8,679.9 1344.6,677.8 1355.4,675.7 1365.5,672.8 1375.1,669.4 1384.6,666 1394,662.5 1403.5,659 1413,655.5 1422.4,652 1431.7,648.4 1440.8,644.6 1449.9,640.7 1458.8,636.7 1467.8,632.7 1476.7,628.7 1485.7,624.7 1494.6,620.7 1503.9,617 1513.9,614.1 1523.9,611.1 1533.9,608.2 1544,605.4 1554.2,602.6 1564.3,599.8 1574.4,596.9 1583.2,592.8 1591.8,588.4 1600.4,584.1 1609,579.8 1617.5,575.3 1626,570.9 1634.6,566.4 1642.3,561.3 1650,556 1657.6,550.6 1665.2,545.3 1672.8,539.9 1680.1,534.3 1687.5,528.8 1694.8,523.2 1701.5,516.8 1708,510.5 1714.6,504.1 1721.2,497.7 1727.7,491.4 1734.4,485.1 1741.1,478.8 1747.8,472.6 1754.6,466.4 1761.3,460.2 1768.5,454.5 1775.8,448.8 1783,443 1790.2,437.3 1797.6,431.8 1805,426.2 1812.3,420.6 1819.8,415.1 1827.1,409.5 1834.5,404 1841.9,398.4 1849.3,392.9 1856.7,387.3 1864.1,381.7 1871.4,376.2 1878.8,370.6 1886.2,365 1893.6,359.5 1901,353.9 1908.4,348.4 1950,348.4 1950,0 1000,0" fill="#40e000" stroke="#40e000" stroke-width="0.6"/>
<polygon points="1000,720 1112.8,706 1117.1,705.4 1125.4,704.5 1137.2,703.4 1149.1,702.3 1160.9,701.2 1172.8,700.1 1184.6,699 1196.4,697.9 1208.3,696.8 1220.1,695.6 1231.9,694.5 1243.3,693 1254.5,691.2 1265.6,689.4 1276.8,687.6 1287.9,685.8 1298.6,683.5 1309.2,681.2 1319.9,678.9 1330.5,676.6 1341.2,674.3 1351.8,672.1 1361.9,669.2 1371.6,666 1381,662.4 1390.4,658.8 1399.7,655.2 1409.1,651.7 1418.5,648.1 1427.7,644.4 1436.8,640.6 1445.8,636.6 1454.5,632.3 1463.2,628 1471.8,623.8 1480.5,619.5 1489.1,615.2 1498,611.2 1507.4,607.6 1516.8,604 1526.4,600.7 1536.2,597.6 1546.1,594.5 1555.9,591.3 1565.7,588.2 1574.6,584.2 1583.3,579.9 1592.1,575.7 1600.8,571.5 1609.2,567 1617.7,562.5 1626.2,558 1634.1,553 1641.8,547.8 1649.5,542.6 1657.3,537.4 1664.9,532 1672.1,526.3 1679.3,520.6 1686.5,514.9 1693.2,508.6 1699.8,502.2 1706.3,495.8 1712.9,489.4 1719.4,483 1726,476.7 1732.4,470.1 1738.8,463.6 1745.5,457.3 1752.2,451.1 1759.1,445 1765.8,438.8 1772.4,432.5 1779.1,426.2 1785.9,420.1 1792.8,414 1799.7,407.9 1806.6,401.9 1813.5,395.9 1820.4,389.8 1827.3,383.8 1834.1,377.7 1841,371.6 1847.9,365.5 1854.7,359.4 1861.6,353.4 1868.5,347.3 1875.3,341.2 1882.2,335.1 1889.1,329.1 1950,329.1 1950,0 1000,0" fill="#80e000" stroke="#80e000" stroke-width="0.6"/>
<polygon points="1000,720 1108,705.9 1115.1,704.9 1124.7,703.8 1136.3,702.5 1148,701.2 1159.6,699.9 1171.3,698.6 1182.9,697.3 1194.5,696 1206.2,694.7 1217.8,693.3 1229.4,692 1240.7,690.4 1252,688.7 1263.2,687 1274.4,685.2 1285.4,683.3 1295.9,680.9 1306.4,678.4 1316.8,675.9 1327.3,673.4 1337.8,670.9 1348.2,668.4 1358.3,665.6 1368.2,662.5 1377.4,658.8 1386.7,655.2 1396,651.5 1405.3,647.8 1414.5,644.1 1423.7,640.4 1432.8,636.6 1441.8,632.6 1450.2,628 1458.5,623.4 1466.9,618.8 1475.3,614.3 1483.6,609.7 1492.2,605.3 1501,601.1 1509.8,597 1518.9,593.2 1528.4,589.8 1538,586.4 1547.5,582.9 1557,579.5 1566,575.5 1574.8,571.4 1583.7,567.4 1592.5,563.3 1600.9,558.7 1609.4,554.2 1617.8,549.6 1625.8,544.7 1633.6,539.6 1641.5,534.5 1649.3,529.4 1657,524.2 1664.1,518.3 1671.1,512.4 1678.2,506.5 1685,500.3 1691.5,494 1698,487.5 1704.5,481.1 1711,474.6 1717.6,468.2 1723.7,461.5 1729.9,454.7 1736.4,448.3 1743,441.9 1749.7,435.6 1755.8,428.8 1761.9,421.9 1768,415.1 1774.3,408.5 1780.6,401.8 1787,395.2 1793.5,388.8 1799.9,382.3 1806.2,375.7 1812.6,369.1 1819,362.5 1825.3,355.9 1831.7,349.3 1838,342.7 1844.4,336.1 1850.7,329.5 1857.1,322.9 1863.4,316.4 1869.8,309.8 1950,309.8 1950,0 1000,0" fill="#b4ec00" stroke="#b4ec00" stroke-width="0.6"/>
<polygon points="1085,705 1094.4,701 1107.6,695.1 1120,688 1129.8,679.6 1138.7,670 1147,659.6 1154.5,648.4 1161.4,636.5 1168,624.8 1174.5,614.3 1180.7,603.9 1187,591.7 1193.3,576.1 1199.6,558.6 1206,542 1212.7,527.2 1219.5,513.2 1226,500 1232.1,487.8 1237.9,476.2 1243.5,464.5 1249.2,451.5 1254.8,438.2 1259.6,427 1262.4,419.8 1264.5,414.6 1269,407.9 1278.9,396.7 1291.2,384 1300,375 1250,325 1050,325 1050,0 1950,0 1950,290.5 1850.5,290.5 1844.6,297.6 1838.8,304.7 1833,311.8 1827.1,318.9 1821.3,326 1815.4,333.1 1809.6,340.2 1803.8,347.3 1797.9,354.4 1792.1,361.5 1786.2,368.6 1780.3,375.6 1774.3,382.6 1768.4,389.6 1762.6,396.8 1756.9,404 1751.3,411.4 1745.8,418.8 1740.2,426.1 1733.9,432.7 1727.4,439.2 1721,445.7 1715.1,452.8 1709.2,459.8 1702.7,466.3 1696.2,472.8 1689.7,479.2 1683.2,485.7 1676.7,492.1 1669.9,498.2 1663,504.2 1656,510.3 1649.1,516.3 1641.4,521.5 1633.4,526.5 1625.5,531.5 1617.5,536.5 1609.4,541.2 1601,545.8 1592.7,550.4 1584.3,555 1575.3,559 1566.3,562.9 1557.3,566.9 1548.3,570.8 1539.1,574.5 1529.9,578.3 1520.7,582 1511.4,585.7 1502.7,589.9 1494.5,594.7 1486.3,599.4 1478.1,604.2 1470.1,609.1 1462,613.9 1453.9,618.8 1445.8,623.7 1437.8,628.5 1428.9,632.6 1419.7,636.4 1410.6,640.2 1401.4,644 1392.2,647.7 1383,651.5 1373.9,655.3 1364.7,659 1354.7,662 1344.6,664.8 1334.3,667.5 1324.1,670.2 1313.8,672.8 1303.5,675.5 1293.3,678.2 1283,680.9 1272,682.8 1260.7,684.5 1249.5,686.2 1238.2,687.9 1226.9,689.5 1215.5,691 1204.1,692.6 1192.7,694.1 1181.2,695.6 1169.8,697.1 1158.3,698.6 1146.9,700.1 1135.4,701.6 1123.9,703.1 1113.2,704.5 1103.3,705.9" fill="#ffff00" stroke="#ffff00" stroke-width="0.6"/>
<polygon points="1085,705 1097.1,701.3 1114.1,695.9 1130,689 1142.7,680.4 1154.1,670.3 1164.4,659.6 1173.2,648.3 1180.9,636.5 1188,624.8 1194.4,614.3 1200.2,603.9 1207,591.7 1215.7,576.1 1225.2,558.6 1234.4,542 1242.8,527.2 1250.8,513.2 1258,500 1264.1,487.8 1269.4,476.2 1274.5,464.5 1279.7,451.5 1284.7,438.2 1289.4,427 1291.8,421.3 1293.9,417.6 1301,407.9 1318.7,384.6 1341.5,355.2 1358,334 1308,284 1050,284 1050,0 1950,0 1950,276.5 1836.5,276.5 1830.4,283.4 1824.3,290.2 1818.2,297 1812.2,303.9 1806.1,310.9 1800.1,317.8 1794.1,324.7 1788.1,331.7 1782.2,338.7 1776.2,345.6 1770.2,352.6 1764.2,359.5 1758.3,366.6 1752.9,374.1 1747.6,381.8 1742.4,389.5 1737.4,397.4 1732.4,405.4 1727.4,413.4 1721.7,420.6 1715.6,427.4 1709.6,434.3 1704,441.8 1698.5,449.2 1692.2,455.9 1686,462.6 1679.8,469.3 1673.5,475.9 1667.1,482.5 1660.4,488.7 1653.7,495 1647,501.3 1640.3,507.5 1632.7,512.8 1624.9,518 1617.1,523.1 1609.3,528.3 1601.2,533.1 1593,537.8 1584.8,542.6 1576.6,547.3 1567.7,551.4 1558.8,555.5 1550,559.5 1541.1,563.6 1532.2,567.6 1523.3,571.7 1514.4,575.8 1505.4,579.6 1496.8,584 1488.6,588.8 1480.5,593.7 1472.5,598.6 1464.5,603.5 1456.4,608.4 1448.4,613.3 1440.3,618.2 1432.3,623 1423.4,627.2 1414.4,631.1 1405.3,635 1396.3,638.9 1387.3,642.8 1378.3,646.7 1369.2,650.6 1360.2,654.5 1350.4,657.7 1340.4,660.6 1330.3,663.5 1320.3,666.4 1310.2,669.3 1300.1,672.1 1290.1,675 1279.9,677.7 1268.9,679.8 1257.8,681.5 1246.5,683.2 1235.2,684.9 1224,686.6 1212.7,688.3 1201.5,690 1190.3,691.7 1179,693.4 1167.8,695.1 1156.5,696.8 1145.3,698.6 1134.2,700.3 1123,702.1 1111.8,703.9 1100.8,705.6" fill="#ffd000" stroke="#ffd000" stroke-width="0.6"/>
<polygon points="1085,705 1099.8,701.7 1120.6,696.7 1140,690 1155.5,681.2 1169.6,670.6 1181.7,659.6 1191.2,648.3 1198.8,636.4 1206,624.8 1212.6,614.3 1218.8,603.9 1226.9,591.7 1238.6,576.1 1252.2,558.6 1264.2,542 1273.5,527.2 1281.2,513.2 1288,500 1293.7,487.8 1298.3,476.2 1303,464.5 1308.1,451.5 1313.2,438.2 1318,427 1321.1,420.3 1324,415.7 1330,407.9 1341.8,394.7 1356.8,378.4 1371,360 1384.1,336.9 1396.4,311.8 1405,294 1355,244 1050,244 1050,0 1950,0 1950,268 1828,268 1820.8,273.7 1813.6,279.5 1806.4,285.2 1799.5,291.2 1792.5,297.3 1785.6,303.3 1778.7,309.3 1771.9,315.5 1765.2,321.7 1758.5,328 1751.8,334.2 1745.1,340.4 1739,347.3 1734.1,355.3 1729.3,363.5 1724.5,371.6 1720.1,380.2 1715.7,388.7 1711.4,397.3 1706.4,405.3 1701.1,413 1695.7,420.5 1690.7,428.4 1685.5,436.2 1679.7,443.3 1673.9,450.5 1668.1,457.6 1662.2,464.7 1656.1,471.5 1649.7,478.1 1643.4,484.7 1637.1,491.3 1630.6,497.8 1623.4,503.5 1616,509 1608.6,514.6 1601.2,520.2 1593.4,525.2 1585.3,530.2 1577.3,535.1 1569.3,540 1560.9,544.6 1552.4,549 1543.9,553.4 1535.3,557.8 1526.8,562.3 1518.3,566.7 1509.8,571.1 1500.7,575 1491.9,579.1 1483.4,583.6 1475,588.1 1466.7,592.8 1458.5,597.5 1450.2,602.1 1441.9,606.8 1433.6,611.5 1425.4,616.1 1416.6,620.3 1407.7,624.4 1398.8,628.4 1390,632.6 1381.2,636.7 1372.4,640.9 1363.6,644.9 1354.7,649 1345.3,652.6 1335.6,655.8 1325.8,659 1316.1,662.2 1306.2,665.2 1296.2,668.2 1286.3,671.2 1276,673.9 1265.3,676.1 1254.3,678.1 1243.1,679.8 1231.9,681.6 1220.7,683.3 1209.5,685 1198.4,686.9 1187.4,688.8 1176.3,690.7 1165.3,692.6 1154.3,694.6 1143.5,696.7 1132.6,698.8 1121.8,700.9 1111,703 1100.5,705.1" fill="#ffa800" stroke="#ffa800" stroke-width="0.6"/>
<polygon points="1085,705 1103.1,701.7 1128.7,696.7 1152,690 1169.6,681.2 1184.9,670.6 1198,659.6 1208.2,648.3 1216.1,636.4 1224,624.8 1231.9,614.3 1239.6,603.9 1249.3,591.7 1262.6,576.1 1277.9,558.6 1291.5,542 1302.4,527.2 1311.8,513.2 1319.6,500 1325.4,487.8 1329.7,476.2 1334,464.5 1339.2,451.5 1344.4,438.2 1349,427 1351.2,420.5 1352.8,416.1 1358,407.9 1369.9,392.2 1385.5,372.7 1400,355 1411.7,341.8 1422.4,330.2 1432,317.6 1440.9,302.5 1448.9,286.3 1455,270 1458.8,252.3 1460.8,234.5 1462,222 1412,172 1050,172 1050,0 1950,0 1950,259.4 1819.4,259.4 1811.1,264.1 1802.9,268.7 1794.6,273.4 1786.8,278.5 1779,283.7 1771.1,288.8 1763.3,293.9 1755.8,299.3 1748.3,304.8 1740.9,310.3 1733.4,315.8 1726,321.3 1719.7,328 1715.3,336.5 1710.9,345.1 1706.6,353.7 1702.8,362.9 1699.1,372.1 1695.3,381.2 1691.2,390.1 1686.7,398.5 1681.9,406.7 1677.3,415 1672.6,423.2 1667.2,430.8 1661.9,438.4 1656.5,446 1651,453.4 1645.1,460.5 1639.1,467.4 1633.1,474.4 1627.1,481.3 1620.9,488.1 1614,494.1 1607.1,500.1 1600.1,506.1 1593.1,512.1 1585.5,517.4 1577.7,522.5 1569.9,527.7 1562.1,532.8 1554.1,537.7 1545.9,542.5 1537.8,547.3 1529.6,552.1 1521.4,556.9 1513.2,561.6 1505.1,566.4 1496,570.3 1487,574.2 1478.2,578.4 1469.5,582.6 1460.9,587 1452.4,591.4 1443.9,595.9 1435.4,600.3 1426.9,604.8 1418.4,609.2 1409.7,613.5 1401,617.7 1392.3,621.9 1383.7,626.3 1375.2,630.7 1366.6,635 1357.9,639.3 1349.2,643.5 1340.2,647.5 1330.7,651 1321.3,654.5 1311.9,658 1302.1,661.2 1292.3,664.3 1282.5,667.5 1272.2,670.1 1261.6,672.5 1250.9,674.7 1239.7,676.5 1228.6,678.2 1217.4,680 1206.2,681.8 1195.3,683.8 1184.5,685.9 1173.7,688.1 1162.8,690.2 1152,692.3 1141.6,694.8 1131.1,697.3 1120.6,699.7 1110.2,702.2 1100.3,704.5" fill="#ff8010" stroke="#ff8010" stroke-width="0.6"/>
<polygon points="1100,704 1113.6,700.2 1132.8,694.9 1150,690 1161.8,686.9 1171.6,684.3 1182,680.4 1194.4,674.8 1207.4,668 1219,659.6 1228.1,649 1235.8,636.8 1243.8,624.8 1252,614.3 1260.5,603.9 1271.6,591.7 1287.5,576.1 1305.9,558.6 1322,542 1333.7,527.2 1343,513.2 1351,500 1357.4,487.8 1362.4,476.2 1367.6,464.5 1373.7,451.5 1379.9,438.2 1386,427 1391.4,419.6 1396.6,414.2 1402.5,407.9 1409.8,400.5 1417.8,392.2 1426,380 1434.5,359.9 1443.2,336.1 1451,317.6 1457,309.7 1462.1,307.2 1467.6,304 1474.3,297.8 1481.6,290.9 1488.3,283.5 1494,275.3 1499.2,266.7 1504.9,258.7 1511.5,252.3 1518.5,246.6 1525.6,240 1531.6,232.3 1537.6,223.7 1546.3,213 1559.5,198.9 1575.5,182.8 1591.8,167.6 1607.7,154 1623.9,141.3 1640,130.4 1656.3,122.3 1672.4,116.1 1687,110 1700.3,102.6 1712,95.2 1720,90 1950,90 1950,250.8 1810.8,250.8 1801.5,254.4 1792.1,258 1782.8,261.6 1774.1,265.9 1765.4,270.1 1756.7,274.3 1748,278.6 1739.6,283.1 1731.4,287.9 1723.2,292.7 1715,297.4 1706.8,302.2 1700.4,308.7 1696.5,317.7 1692.6,326.7 1688.7,335.8 1685.5,345.6 1682.4,355.4 1679.2,365.1 1676,374.9 1672.2,384 1668.1,392.8 1664,401.7 1659.6,410.3 1654.7,418.3 1649.8,426.3 1644.9,434.4 1639.7,442.2 1634.1,449.5 1628.4,456.7 1622.8,464 1617.1,471.3 1611.2,478.4 1604.7,484.8 1598.1,491.2 1591.6,497.6 1585,504 1577.6,509.5 1570,514.9 1562.4,520.2 1554.8,525.6 1547.2,530.9 1539.5,536.1 1531.7,541.2 1523.8,546.3 1516,551.5 1508.2,556.6 1500.4,561.7 1491.3,565.6 1482.1,569.4 1473,573.1 1463.9,577 1455.2,581.2 1446.4,585.4 1437.7,589.7 1429,593.9 1420.3,598.1 1411.5,602.3 1402.9,606.6 1394.3,611 1385.8,615.4 1377.4,620 1369.1,624.6 1360.7,629.2 1352.2,633.6 1343.7,638 1335.1,642.3 1325.9,646.1 1316.8,649.9 1307.6,653.7 1298,657.1 1288.4,660.4 1278.8,663.7 1268.4,666.3 1258,668.8 1247.5,671.2 1236.3,673.1 1225.2,674.9 1214.1,676.7 1203,678.5 1192.2,680.7 1181.6,683 1171,685.4 1160.4,687.7 1149.8,690.1 1139.7,692.9 1129.6,695.7 1119.4,698.6 1109.3,701.4 1100,704" fill="#ff5a0a" stroke="#ff5a0a" stroke-width="0.6"/>
<polygon points="1264,629 1280,607 1297,588 1318,565 1340,542 1378,502 1404,464.5 1425,430 1452,408 1465,380 1487,342 1505,312 1530,287 1563,268 1592,257 1620,250 1645,248 1658,255 1659.5,300 1657,340 1654.5,362 1646.8,393 1639,408.6 1617.3,426 1570.7,472 1524,520 1500,553 1466.2,567.8 1437.3,580.8 1408.3,595.3 1386.6,606.9 1361.2,621.4 1335.9,633 1301,637 1267.8,631" fill="#ff3008"/>
<defs><linearGradient id="g2160" gradientUnits="userSpaceOnUse" x1="1113" y1="0" x2="1243" y2="0"><stop offset="0" stop-color="#80e000"/><stop offset="0.55" stop-color="#20d870"/><stop offset="1" stop-color="#00e8e0"/></linearGradient></defs>
<polyline points="1113.5,688.2 1150,690.5 1187.8,692.4 1214.3,695.9 1232,700.1 1242.4,703.6" fill="none" stroke="#f0f000" stroke-width="8" stroke-opacity="0.75" stroke-linecap="round"/>
<polyline points="1113.5,688.2 1150,690.5 1187.8,692.4 1214.3,695.9 1232,700.1 1242.4,703.6" fill="none" stroke="url(#g2160)" stroke-width="4.2" stroke-linecap="round"/>
<polygon points="1438.8,475.4 1462,455.2 1486.9,432 1500.9,418 1514.9,396.2 1511.7,408.6 1508.6,424 1496.2,444.3 1480.7,455.2 1462,466" fill="#f01010"/>
<polygon points="1259,636 1301,636 1304,643 1263.5,640" fill="#f01010"/>
</g></g>
<g clip-path="url(#clipB)" stroke="#ffffff" stroke-opacity="0.55" stroke-width="1.3">
<line x1="1219.8" y1="74" x2="1219.8" y2="706"/>
<line x1="1361.8" y1="74" x2="1361.8" y2="706"/>
<line x1="1503.3" y1="74" x2="1503.3" y2="706"/>
<line x1="1644.5" y1="74" x2="1644.5" y2="706"/>
<line x1="1080.8" y1="108.7" x2="1812.6" y2="108.7"/>
<line x1="1080.8" y1="257.9" x2="1812.6" y2="257.9"/>
<line x1="1080.8" y1="407.6" x2="1812.6" y2="407.6"/>
<line x1="1080.8" y1="557" x2="1812.6" y2="557"/>
</g>
<defs><clipPath id="clipBframe"><rect x="1074.8" y="66" width="743.8" height="648"/></clipPath></defs>
<g clip-path="url(#clipBframe)">
<polyline points="1484.9,194.7 1498,195.4 1516.9,196.3 1537.6,197.8 1556.1,200.5 1572,204.5 1587.1,209.5 1601.1,215.3 1613.9,221.7 1625,228.8 1634.8,236.7 1643.7,244.8 1652.4,252.5 1660.9,259.7 1669,266.7 1676.5,273.3 1683.2,279.4 1688.9,283.9 1693.7,287.4 1698.1,291.5 1702.4,297.9 1706.6,307.4 1710.7,319 1714.4,331.8 1717.8,344.8 1720.9,358.4 1723.6,372.9 1726,387.3 1728.2,400.6 1730,412.1 1731.5,422.4 1732.8,432.9 1734,444.9 1735.1,459.3 1736,475.1 1736.9,491.2 1737.8,506.5 1738.9,520.7 1740,534.4 1741.1,547.6 1742.1,560.4 1742.9,572.3 1743.5,583.5 1744.2,594.7 1744.7,606.6 1745.3,619.7 1745.8,633.6 1746.2,647.4 1746.7,660.5 1747.2,673.5 1747.8,686.5 1748.2,697.9 1748.6,705.9" fill="none" stroke="#103838" stroke-width="1.1" stroke-opacity="0.75"/>
<rect x="1482.9" y="193.1" width="4" height="3.2" fill="#111"/>
<rect x="1700.4" y="296.3" width="4" height="3.2" fill="#111"/>
<rect x="1726.2" y="399" width="4" height="3.2" fill="#111"/>
<rect x="1735.8" y="504.9" width="4" height="3.2" fill="#111"/>
<polyline points="1379.1,317.1 1386.8,317.6 1397.8,318.3 1410.1,319.1 1421.4,319.8 1431.3,320.3 1440.9,320.7 1450.4,321.1 1459.9,321.7 1469.5,322.4 1479.2,323.1 1488.8,324 1498.4,325.6 1508,327.7 1517.6,330.2 1527.3,333.3 1536.9,337.1 1546.7,342.1 1556.6,348 1566.3,354.2 1575.4,360.2 1583.8,366.2 1591.8,372.4 1599.3,378.3 1606.2,383.3 1612.1,386.8 1617.3,389.3 1622.3,391.9 1627.7,396 1633.8,402.2 1640.2,409.7 1646.5,417.8 1652.4,425.7 1657.8,433.6 1663,441.8 1667.7,449.6 1671.6,456.5 1674.5,461.5 1676.6,465.2 1678.4,469.1 1680.5,474.9 1683,483.3 1685.7,493.2 1688.4,503.9 1690.9,514.2 1693,524 1694.9,533.7 1696.7,543.5 1698.6,553.8 1700.6,565 1702.8,576.7 1704.7,588.3 1706.3,598.9 1707.1,608 1707.5,616.2 1707.7,624.1 1708.2,632.4 1709,641.1 1709.9,650 1710.9,659 1712,668.2 1713.5,678.3 1715.2,689.3 1716.7,699.1 1717.8,705.9" fill="none" stroke="#c878b8" stroke-width="1.1" stroke-opacity="0.75"/>
<rect x="1377.1" y="315.5" width="4" height="3.2" fill="#111"/>
<rect x="1625.7" y="394.4" width="4" height="3.2" fill="#111"/>
<rect x="1678.5" y="473.3" width="4" height="3.2" fill="#111"/>
<rect x="1696.6" y="552.2" width="4" height="3.2" fill="#111"/>
<rect x="1706.2" y="630.8" width="4" height="3.2" fill="#111"/>
<polyline points="1244.4,425.7 1255.5,426 1271.5,426.4 1289.4,426.9 1305.9,427.6 1320.7,428.3 1335.1,429.2 1349.3,430.2 1363.7,431.4 1378.6,433.1 1393.8,435 1408.3,437.1 1421.4,439.1 1432.4,440.9 1441.9,442.5 1450.7,444.4 1459.9,446.8 1469.4,450 1478.8,453.7 1488.4,457.9 1498.4,462.2 1509.2,466.8 1520.5,471.7 1531.6,476.9 1541.9,482.6 1551.1,489 1559.6,495.8 1567.6,503 1575.4,510.3 1583.1,517.8 1590.6,525.6 1597.7,533.4 1604.3,541.1 1610.3,549 1615.8,556.9 1620.9,564.6 1625.4,571.9 1629.2,578.5 1632.4,584.6 1635.3,590.6 1638.1,597 1640.9,603.9 1643.4,611.1 1645.9,618.4 1648.5,625.8 1651.4,633.3 1654.3,640.9 1657.3,648.5 1660.1,655.8 1662.7,663.1 1665.1,670.2 1667.5,677.1 1669.7,683.6 1671.9,690 1674.1,696.5 1676,702 1677.4,705.9" fill="none" stroke="#f0e060" stroke-width="1.1" stroke-opacity="0.75"/>
<rect x="1240.9" y="422.9" width="7" height="5.6" fill="#111"/>
<rect x="1538.4" y="479.8" width="7" height="5.6" fill="#111"/>
<rect x="1600.8" y="538.3" width="7" height="5.6" fill="#111"/>
<rect x="1634.6" y="594.2" width="7" height="5.6" fill="#111"/>
<rect x="1656.6" y="653" width="7" height="5.6" fill="#111"/>
<polyline points="1203.9,509.6 1222.7,509.9 1249.7,510.3 1279.3,511 1305.9,512.3 1328.7,513.8 1350.3,515.6 1370.9,518.1 1390.6,521.9 1409.8,527.5 1428.2,534.5 1445.1,542 1459.9,548.8 1472.2,555 1482.3,561 1490.9,566.7 1498.4,571.9 1504.4,576.5 1508.8,580.5 1512.6,584.4 1516.9,588.5 1521.7,592.8 1526.6,597.2 1531.7,601.7 1536.9,606.6 1542.5,611.9 1548.5,617.6 1554.3,623.4 1559.2,628.9 1563,634.1 1566.1,639.1 1568.7,644.1 1571.5,648.9 1574.5,653.6 1577.4,658.2 1580.2,662.7 1583.1,667.4 1586,672.3 1588.9,677.4 1591.7,682.5 1594.6,687.4 1597.8,692.6 1601.1,697.9 1604.1,702.6 1606.2,705.9" fill="none" stroke="#202020" stroke-width="1.1" stroke-opacity="0.75"/>
<rect x="1201.9" y="508" width="4" height="3.2" fill="#111"/>
<rect x="1457.9" y="547.2" width="4" height="3.2" fill="#111"/>
<rect x="1514.9" y="586.9" width="4" height="3.2" fill="#111"/>
<rect x="1557.2" y="627.3" width="4" height="3.2" fill="#111"/>
<rect x="1581.1" y="665.8" width="4" height="3.2" fill="#111"/>
<polyline points="1173.2,571.9 1191,573 1216.7,574.5 1244.2,576.1 1267.5,577.7 1284.7,579 1299.3,580.1 1312.4,581.5 1325.2,583.5 1337.8,586.3 1349.7,589.7 1360.9,593.4 1371.4,597 1381,600.3 1389.8,603.6 1398.1,607 1406,610.4 1413.6,614 1420.6,617.7 1427.4,621.4 1434.1,625.1 1440.9,628.7 1447.7,632.3 1454.1,635.8 1459.9,639.3 1464.7,642.5 1468.9,645.5 1472.8,648.6 1477.2,652 1482.3,655.8 1487.7,659.8 1493.2,664 1498.4,668.2 1503.4,672.3 1508.3,676.6 1513,680.9 1517.6,685.5 1522.5,690.8 1527.5,696.8 1531.9,702.1 1535,705.9" fill="none" stroke="#a02878" stroke-width="1.1" stroke-opacity="0.75"/>
<rect x="1171.2" y="570.3" width="4" height="3.2" fill="#111"/>
<rect x="1369.4" y="595.4" width="4" height="3.2" fill="#111"/>
<rect x="1432.1" y="623.5" width="4" height="3.2" fill="#111"/>
<rect x="1475.2" y="650.4" width="4" height="3.2" fill="#111"/>
<rect x="1497.6" y="667.7" width="4" height="3.2" fill="#111"/>
<polyline points="1150.1,623.9 1164.4,624.8 1185.1,626.1 1207.9,627.7 1229,629.7 1248.4,632.1 1267.9,635 1285.8,637.9 1300.2,640.4 1309.5,642.3 1315.1,643.8 1319.5,645.3 1325.2,647 1333.1,649 1341.8,651.3 1350.4,653.6 1357.9,655.8 1364.1,658 1369.5,660 1374.4,662.1 1379.1,664.3 1383.5,666.5 1387.5,668.6 1391.5,671 1395.6,673.9 1400,677.6 1404.5,681.8 1409.1,686.3 1413.7,690.5 1418.9,694.8 1424.5,699.2 1429.5,703.1 1433,705.9" fill="none" stroke="#c06020" stroke-width="1.1" stroke-opacity="0.75"/>
<rect x="1148.1" y="622.3" width="4" height="3.2" fill="#111"/>
<rect x="1298.2" y="638.8" width="4" height="3.2" fill="#111"/>
<rect x="1355.9" y="654.2" width="4" height="3.2" fill="#111"/>
<rect x="1393.6" y="672.3" width="4" height="3.2" fill="#111"/>
<rect x="1411.7" y="688.9" width="4" height="3.2" fill="#111"/>
<polyline points="1130.8,659.7 1141.7,660.5 1157.3,661.6 1174.6,663 1190.5,664.3 1204.7,665.6 1218.6,666.9 1232,668.4 1244.4,670.1 1255.7,672.1 1266.2,674.3 1275.9,676.6 1284.8,678.9 1293,681.3 1300.5,683.8 1307.1,686.2 1312.9,688.6 1317.3,690.7 1320.7,692.8 1323.7,694.9 1327.1,697 1331.6,699.4 1336.7,702 1341.3,704.3 1344.4,705.9" fill="none" stroke="#381858" stroke-width="1.1" stroke-opacity="0.75"/>
<rect x="1128.8" y="658.1" width="4" height="3.2" fill="#111"/>
<rect x="1242.4" y="668.5" width="4" height="3.2" fill="#111"/>
<rect x="1282.8" y="677.3" width="4" height="3.2" fill="#111"/>
<rect x="1310.9" y="687" width="4" height="3.2" fill="#111"/>
<rect x="1325.1" y="695.4" width="4" height="3.2" fill="#111"/>
<polyline points="1115.4,688.2 1129.5,689 1149.9,690.1 1171.2,691.3 1187.8,692.4 1197.8,693.3 1204.5,694.1 1209.4,695 1214.3,695.9 1219.6,696.9 1224.2,698 1228.3,699.1 1232,700.1 1235.4,701.1 1238.3,702.1 1240.7,703 1242.4,703.6" fill="none" stroke="#40d0d8" stroke-width="1.1" stroke-opacity="0.75"/>
<rect x="1112.6" y="683.2" width="5.6" height="10" fill="#111"/>
<rect x="1185" y="687.4" width="5.6" height="10" fill="#111"/>
<rect x="1211.5" y="690.9" width="5.6" height="10" fill="#111"/>
<rect x="1229.2" y="695.1" width="5.6" height="10" fill="#111"/>
<rect x="1237.7" y="698.6" width="5.6" height="10" fill="#111"/>
<polyline points="1600,74.5 1644.7,86.4 1664,95.5 1686.8,109 1709.6,125 1730,148 1748.3,170.6 1764.2,200 1775.6,227.5 1781.5,250 1785.5,290 1789.5,330 1794,387 1797.9,458.4 1801.7,521.9 1804.4,587.3 1808.3,637.4 1812,706" fill="none" stroke="#401010" stroke-width="1.1" stroke-opacity="0.7"/>
<rect x="1762" y="198.8" width="4" height="3.4" fill="#111"/>
<rect x="1787.8" y="328.9" width="4" height="3.4" fill="#111"/>
<rect x="1795.9" y="456.7" width="4" height="3.4" fill="#111"/>
<rect x="1802.4" y="585.6" width="4" height="3.4" fill="#111"/>
<polyline points="1080.8,706 1094.2,700.9 1113.5,688.2 1130.8,659.7 1150,623.9 1173.2,571.9 1204,509.6 1223.2,468 1244.4,425.7 1261,408 1282,390.7 1302.6,374 1321.3,359.9 1356,335 1380.7,317.6 1405.5,293.8 1426,269 1447,242 1467.6,215 1485.2,195.5 1509,169.7 1529.7,147 1550.4,124 1571,101.4 1591.8,80.7 1600,74.5" fill="none" stroke="#806020" stroke-width="0.8" stroke-opacity="0.6"/>
<rect x="1096.4" y="701.2" width="3.4" height="13" fill="#111"/>
<rect x="1129.1" y="701.2" width="3.4" height="13" fill="#111"/>
<rect x="1142.6" y="701.2" width="3.4" height="13" fill="#111"/>
<rect x="1150.3" y="701.2" width="3.4" height="13" fill="#111"/>
<rect x="1154.9" y="701.2" width="3.4" height="13" fill="#111"/>
<polyline points="1098.1,706.3 1157.8,707.8" fill="none" stroke="#e060c0" stroke-width="1.3"/>
</g>
<rect x="1080.8" y="74" width="731.8" height="632" fill="none" stroke="#000" stroke-width="1.8"/>
<line x1="1084" y1="64" x2="1122" y2="64" stroke="#e060c0" stroke-width="1.4"/>
<rect x="1101.5" y="62.5" width="3" height="3" fill="#111"/>
<text x="1129" y="69" font-size="15" letter-spacing="-0.65">992</text>
<line x1="1161" y1="64" x2="1198" y2="64" stroke="#40d0d8" stroke-width="1.4"/>
<rect x="1178" y="62.5" width="3" height="3" fill="#111"/>
<text x="1203" y="69" font-size="15" letter-spacing="-0.65">2160</text>
<line x1="1244" y1="64" x2="1281" y2="64" stroke="#381858" stroke-width="1.4"/>
<rect x="1261" y="62.5" width="3" height="3" fill="#111"/>
<text x="1285" y="69" font-size="15" letter-spacing="-0.65">3338</text>
<line x1="1326" y1="64" x2="1364" y2="64" stroke="#c06020" stroke-width="1.4"/>
<rect x="1343.5" y="62.5" width="3" height="3" fill="#111"/>
<text x="1368" y="69" font-size="15" letter-spacing="-0.65">4516</text>
<line x1="1410" y1="64" x2="1448" y2="64" stroke="#a02878" stroke-width="1.4"/>
<rect x="1427.5" y="62.5" width="3" height="3" fill="#111"/>
<text x="1452" y="69" font-size="15" letter-spacing="-0.65">5695</text>
<line x1="1492" y1="64" x2="1530" y2="64" stroke="#202020" stroke-width="1.4"/>
<rect x="1509.5" y="62.5" width="3" height="3" fill="#111"/>
<text x="1534" y="69" font-size="15" letter-spacing="-0.65">6873</text>
<line x1="1574" y1="64" x2="1612" y2="64" stroke="#e4eca0" stroke-width="1.4"/>
<rect x="1591.5" y="62.5" width="3" height="3" fill="#111"/>
<text x="1617" y="69" font-size="15" letter-spacing="-0.65">8051</text>
<line x1="1657" y1="64" x2="1695" y2="64" stroke="#a8a0b8" stroke-width="1.4"/>
<rect x="1674.5" y="62.5" width="3" height="3" fill="#111"/>
<text x="1700" y="69" font-size="15" letter-spacing="-0.65">9229</text>
<line x1="1740" y1="64" x2="1778" y2="64" stroke="#103838" stroke-width="1.4"/>
<rect x="1757.5" y="62.5" width="3" height="3" fill="#111"/>
<text x="1783" y="69" font-size="15" letter-spacing="-0.65">10407</text>
<text x="1874" y="69" font-size="15" letter-spacing="-0.65">11586</text>
<rect x="1107.5" y="63" width="6" height="6" fill="#111"/>
<rect x="1181" y="63" width="5" height="11" fill="#111"/>
<rect x="1597" y="66" width="7" height="9" fill="#111"/>
<text x="1078" y="20" font-size="21.8" text-anchor="start">Efficiency Map - Reduced</text>
<text x="1078" y="47" font-size="21.8" text-anchor="start">Compressor part Compressor</text>
<text x="1070" y="83" font-size="21.8" text-anchor="end">3.12</text>
<text x="1070" y="117.7" font-size="21.8" text-anchor="end">3.00</text>
<text x="1070" y="266.9" font-size="21.8" text-anchor="end">2.50</text>
<text x="1070" y="416.6" font-size="21.8" text-anchor="end">2.00</text>
<text x="1070" y="566" font-size="21.8" text-anchor="end">1.50</text>
<text x="1070" y="715" font-size="21.8" text-anchor="end">1.00</text>
<text x="1080.8" y="731.5" font-size="21.8" text-anchor="middle">0.00000</text>
<text x="1219.8" y="731.5" font-size="21.8" text-anchor="middle">0.00600</text>
<text x="1361.8" y="731.5" font-size="21.8" text-anchor="middle">0.01200</text>
<text x="1503.3" y="731.5" font-size="21.8" text-anchor="middle">0.01800</text>
<text x="1644.5" y="731.5" font-size="21.8" text-anchor="middle">0.02400</text>
<text x="1812.6" y="731.5" font-size="21.8" text-anchor="middle">0.03111</text>
<text x="1444" y="768" font-size="21.8" text-anchor="middle">Reduced Mass Flow Rate [(kg/s)-K^0.5/kPa]</text>
<text transform="translate(989.5,398) rotate(-90)" font-size="21.8" text-anchor="middle">Pressure Ratio</text>
<rect x="1827.6" y="93" width="44.1" height="24.7" fill="#00004c"/>
<rect x="1827.6" y="117.2" width="44.1" height="24.7" fill="#00009a"/>
<rect x="1827.6" y="141.4" width="44.1" height="24.7" fill="#0000f8"/>
<rect x="1827.6" y="165.7" width="44.1" height="24.7" fill="#0848f0"/>
<rect x="1827.6" y="189.9" width="44.1" height="24.7" fill="#0a78f8"/>
<rect x="1827.6" y="214.1" width="44.1" height="24.7" fill="#10a8f0"/>
<rect x="1827.6" y="238.3" width="44.1" height="24.7" fill="#08d0f8"/>
<rect x="1827.6" y="262.5" width="44.1" height="24.7" fill="#00ffff"/>
<rect x="1827.6" y="286.7" width="44.1" height="24.7" fill="#00e8b8"/>
<rect x="1827.6" y="311" width="44.1" height="24.7" fill="#08d060"/>
<rect x="1827.6" y="335.2" width="44.1" height="24.7" fill="#00c800"/>
<rect x="1827.6" y="359.4" width="44.1" height="24.7" fill="#40e000"/>
<rect x="1827.6" y="383.6" width="44.1" height="24.7" fill="#80e000"/>
<rect x="1827.6" y="407.8" width="44.1" height="24.7" fill="#b4ec00"/>
<rect x="1827.6" y="432" width="44.1" height="24.7" fill="#ffff00"/>
<rect x="1827.6" y="456.3" width="44.1" height="24.7" fill="#ffd000"/>
<rect x="1827.6" y="480.5" width="44.1" height="24.7" fill="#ffa800"/>
<rect x="1827.6" y="504.7" width="44.1" height="24.7" fill="#ff8010"/>
<rect x="1827.6" y="528.9" width="44.1" height="24.7" fill="#ff5a0a"/>
<rect x="1827.6" y="553.1" width="44.1" height="24.7" fill="#ff3008"/>
<rect x="1827.6" y="577.3" width="44.1" height="24.7" fill="#f00000"/>
<rect x="1827.6" y="601.6" width="44.1" height="24.7" fill="#e00000"/>
<rect x="1827.6" y="625.8" width="44.1" height="24.7" fill="#c00000"/>
<text x="1875" y="102.5" font-size="21.8" text-anchor="start">0.0</text>
<text x="1875" y="126.7" font-size="21.8" text-anchor="start">20.0</text>
<text x="1875" y="150.9" font-size="21.8" text-anchor="start">30.0</text>
<text x="1875" y="175.2" font-size="21.8" text-anchor="start">35.0</text>
<text x="1875" y="199.4" font-size="21.8" text-anchor="start">37.5</text>
<text x="1875" y="223.6" font-size="21.8" text-anchor="start">40.0</text>
<text x="1875" y="247.8" font-size="21.8" text-anchor="start">42.5</text>
<text x="1875" y="272" font-size="21.8" text-anchor="start">45.0</text>
<text x="1875" y="296.2" font-size="21.8" text-anchor="start">47.5</text>
<text x="1875" y="320.5" font-size="21.8" text-anchor="start">50.0</text>
<text x="1875" y="344.7" font-size="21.8" text-anchor="start">52.5</text>
<text x="1875" y="368.9" font-size="21.8" text-anchor="start">55.0</text>
<text x="1875" y="393.1" font-size="21.8" text-anchor="start">57.5</text>
<text x="1875" y="417.3" font-size="21.8" text-anchor="start">60.0</text>
<text x="1875" y="441.5" font-size="21.8" text-anchor="start">62.5</text>
<text x="1875" y="465.8" font-size="21.8" text-anchor="start">65.0</text>
<text x="1875" y="490" font-size="21.8" text-anchor="start">67.5</text>
<text x="1875" y="514.2" font-size="21.8" text-anchor="start">70.0</text>
<text x="1875" y="538.4" font-size="21.8" text-anchor="start">72.5</text>
<text x="1875" y="562.6" font-size="21.8" text-anchor="start">75.0</text>
<text x="1875" y="586.8" font-size="21.8" text-anchor="start">77.5</text>
<text x="1875" y="611.1" font-size="21.8" text-anchor="start">80.0</text>
<text x="1875" y="635.3" font-size="21.8" text-anchor="start">82.5</text>
<text x="1875" y="659.5" font-size="21.8" text-anchor="start">100.0</text>
<text transform="translate(965.6,831) scale(0.91,1)" font-size="32.8" class="lab">(b)</text>
<defs><clipPath id="clipC"><polygon points="150.7,1608.7 161,1598.4 171.4,1589 192,1580.8 212.7,1575.6 229.2,1569.5 232.3,1561 232.3,1561 233.4,1548.9 234.9,1531.6 237,1513.6 239.9,1495.4 243.2,1476.5 246,1460 247.5,1448.7 248.5,1439.9 250,1428.4 252.4,1412 255.4,1393 259,1373 263.2,1352.2 268,1330.5 273.4,1308.6 279.7,1285.9 286.5,1263.1 292.7,1243.5 297.5,1229.2 301.6,1218.1 306,1207 311.1,1194.4 316.6,1181.8 322,1170 327.3,1159.6 332.5,1150 338,1141 343.9,1132.4 349.9,1124.4 356,1117 362.1,1110.1 368.1,1103.8 374,1098 379.5,1092.9 384.7,1088.3 390,1084 395.3,1080 400.6,1076.4 406,1073 411.7,1069.8 417.4,1066.8 423,1064 428.5,1061.2 433.8,1058.6 438.4,1056.3 441.6,1054.7 444.1,1053.4 447,1052 450.5,1050.2 454.5,1048.3 459.4,1046.2 465.6,1043.7 472.7,1041 480,1038.5 487.3,1036.5 494.9,1034.8 503,1033 510.7,1031.1 518.9,1029.1 530,1026.9 545.1,1024.4 563.1,1021.8 583,1019 604.8,1016.1 628.4,1013 652.5,1010 675.1,1007 698.1,1003.9 725.9,1001 765.9,998 810.8,995 842.7,993 842.6,960 812,959.9 768.5,959.9 726,960 689,960.3 653,960.7 619,961.5 586.6,962.8 556.1,964.5 530,965.9 509.9,966.7 494.2,967.3 480,967.8 466.7,968.3 455,968.8 443.8,969.4 433.1,970 422.9,970.7 412.8,971.7 402.2,973.1 391.6,974.8 381.8,976.4 373,977.9 365.1,979.4 358.5,981 354.1,982.5 351.1,984.2 347.6,986.5 342.9,989.7 337.7,993.6 332,998 325.6,1002.8 318.7,1008.1 312,1013.6 305.6,1019.1 299.4,1024.8 293.3,1030.7 287.5,1036.6 282,1042.6 276.2,1049.3 270.2,1056.8 264,1065 257.6,1074.2 250.9,1084.5 244.1,1095.9 237.4,1108.3 231.1,1121.9 224.9,1136.6 218.8,1151.8 212.4,1167.7 206,1184.1 200.2,1200 195.2,1214 190.8,1227.6 186.6,1243.5 182.5,1263.6 178.5,1286.2 174.6,1308.6 170.6,1330.5 166.7,1352.2 163.3,1373 160.7,1393 158.6,1412 156.9,1428.4 155.9,1439.9 155.3,1448.7 154.5,1460 153.2,1476.5 151.7,1495.4 150.7,1513.6 150.4,1531.6 150.6,1548.9 150.7,1561"/></clipPath></defs>
<line x1="293.7" y1="959.6" x2="293.7" y2="1615" stroke="#9a9a9a" stroke-width="1.3"/>
<line x1="438" y1="959.6" x2="438" y2="1615" stroke="#9a9a9a" stroke-width="1.3"/>
<line x1="582.7" y1="959.6" x2="582.7" y2="1615" stroke="#9a9a9a" stroke-width="1.3"/>
<line x1="726" y1="959.6" x2="726" y2="1615" stroke="#9a9a9a" stroke-width="1.3"/>
<line x1="150.7" y1="1056" x2="842.6" y2="1056" stroke="#9a9a9a" stroke-width="1.3"/>
<line x1="150.7" y1="1243.7" x2="842.6" y2="1243.7" stroke="#9a9a9a" stroke-width="1.3"/>
<line x1="150.7" y1="1428.4" x2="842.6" y2="1428.4" stroke="#9a9a9a" stroke-width="1.3"/>
<g clip-path="url(#clipC)"><g filter="url(#soft)">
<rect x="100" y="900" width="800" height="780" fill="#18a8f8"/>
<polygon points="153.6,1605.8 153.6,1561 153.5,1548.9 153.4,1531.6 153.7,1513.6 154.8,1495.4 156.3,1476.5 157.7,1460 158.5,1448.7 159.1,1439.9 160.2,1428.4 161.8,1412 163.9,1393 166.5,1373 169.9,1352.2 173.8,1330.5 177.7,1308.6 181.6,1286.1 185.6,1263.6 189.8,1243.5 193.7,1227.6 197.9,1214.1 202.5,1200.2 208.1,1184.3 214.2,1167.9 220.2,1152.1 226.1,1136.9 232,1122.2 238,1108.5 244.5,1096 251.1,1084.6 257.6,1074.2 264,1065 270.2,1056.8 276.2,1049.3 282,1042.6 287.5,1036.6 293.3,1030.7 299.4,1024.8 305.6,1019.1 312,1013.6 318.7,1008.1 325.6,1002.8 332,998 337.7,993.6 342.9,989.7 347.6,986.5 351.1,984.2 354.1,982.5 358.5,981 365.1,979.4 373,977.9 381.8,976.4 391.6,974.8 402.2,973.1 412.8,971.7 422.9,970.7 433.1,970 443.8,969.4 455,968.8 466.7,968.3 480,967.8 494.2,967.3 509.9,966.7 530,965.9 556.1,964.5 586.6,962.8 619,961.5 653,960.7 689,960.3 726,960 768.5,959.9 812,959.9 842.6,960 900,960 900,1700 153.6,1700" fill="#00e0ff" stroke="#00e0ff" stroke-width="0.6"/>
<polygon points="162.9,1596.6 162.9,1561 162.9,1548.9 163,1531.6 163.5,1513.6 164.8,1495.4 166.5,1476.5 168,1460 168.9,1448.7 169.5,1439.9 170.6,1428.4 172.1,1412 174.1,1393 176.6,1373 179.8,1352.2 183.5,1330.5 187.4,1308.6 191.3,1286.1 195.3,1263.6 199.3,1243.5 202.7,1227.8 206.2,1214.5 210.2,1200.7 215.1,1185 220.5,1168.8 226,1153.1 231.2,1138 236.4,1123.4 241.8,1109.7 247.8,1097.3 254,1085.8 260.1,1075.3 266.5,1066.1 272.7,1058 278.8,1050.6 284.6,1043.9 290.2,1038 296,1032.2 302,1026.4 308.3,1020.7 314.7,1015.3 321.4,1009.9 328.3,1004.7 334.7,999.9 340.4,995.6 345.6,991.8 350.3,988.6 353.8,986.3 356.8,984.7 361.2,983.1 367.6,981.5 375.4,980 384.1,978.5 393.8,976.8 404.3,975.1 414.8,973.7 424.9,972.7 434.9,972 445.6,971.3 456.6,970.7 468.3,970.2 481.5,969.6 495.7,969 511.5,968.4 531.6,967.5 557.5,966 587.7,964.2 619.9,962.8 653.5,961.9 689.2,961.3 726,961 768.4,960.7 812,960.7 842.6,960.7 900,960.7 900,1700 162.9,1700" fill="#00f4b4" stroke="#00f4b4" stroke-width="0.6"/>
<polygon points="167.8,1592.2 167.8,1561 167.9,1548.9 168.2,1531.6 168.8,1513.6 170.2,1495.4 172.1,1476.5 173.7,1460 174.6,1448.7 175.3,1439.9 176.5,1428.4 177.9,1412 179.8,1393 182.2,1373 185.4,1352.2 189,1330.5 192.8,1308.6 196.7,1286.1 200.6,1263.5 204.6,1243.5 207.9,1227.8 211.2,1214.7 215.1,1201 219.8,1185.5 225,1169.4 230.3,1153.8 235.3,1138.9 240.4,1124.5 245.6,1111 251.5,1098.6 257.6,1087.2 263.5,1076.8 269.9,1067.7 276,1059.6 282.1,1052.2 287.8,1045.6 293.4,1039.7 299.1,1033.9 305.1,1028.1 311.3,1022.6 317.6,1017.2 324.3,1011.8 331.1,1006.7 337.5,1002 343.1,997.7 348.4,993.9 353,990.7 356.6,988.4 359.6,986.8 363.9,985.3 370.3,983.8 378.1,982.3 386.7,980.8 396.3,979.1 406.7,977.4 417.2,976 427.2,975.1 437.2,974.3 447.8,973.7 458.7,973 470.3,972.5 483.4,971.9 497.7,971.3 513.6,970.6 533.6,969.5 559.4,968 589.3,966.1 621.1,964.6 654.3,963.6 689.5,962.9 726,962.3 768.3,962 812,961.8 842.6,961.6 900,961.6 900,1700 167.8,1700" fill="#14d860" stroke="#14d860" stroke-width="0.6"/>
<polygon points="173.5,1588.1 173.5,1561 173.6,1548.9 173.9,1531.6 174.5,1513.6 175.9,1495.4 177.8,1476.5 179.4,1460 180.3,1448.7 180.9,1439.9 182,1428.4 183.5,1412 185.5,1393 188,1373 191.1,1352.2 194.9,1330.5 198.7,1308.6 202.7,1286.1 206.9,1263.5 211,1243.5 214.3,1227.9 217.6,1214.9 221.4,1201.4 226.1,1186.1 231.3,1170.2 236.5,1154.9 241.5,1140.3 246.5,1126.2 251.7,1112.9 257.5,1100.8 263.5,1089.6 269.4,1079.3 275.6,1070.4 281.7,1062.3 287.6,1055 293.3,1048.4 298.8,1042.5 304.4,1036.8 310.3,1031.1 316.4,1025.6 322.6,1020.3 329.2,1015.1 335.9,1010 342.1,1005.4 347.8,1001.1 353,997.3 357.6,994.2 361.1,992 364.1,990.4 368.3,988.9 374.6,987.3 382.1,985.8 390.5,984.3 400,982.6 410.2,980.8 420.5,979.4 430.4,978.3 440.3,977.6 450.7,976.8 461.5,976.2 472.9,975.5 485.9,974.8 500.3,974.1 516.3,973.3 536.3,972.2 561.7,970.5 591.3,968.5 622.7,966.8 655.3,965.7 689.9,964.8 726,964.1 768.2,963.6 811.9,963.2 842.6,963 900,963 900,1700 173.5,1700" fill="#3cdc08" stroke="#3cdc08" stroke-width="0.6"/>
<polygon points="178.4,1586.2 178.4,1561 178.7,1548.9 179.1,1531.6 179.9,1513.6 181.5,1495.4 183.6,1476.5 185.3,1460 186.3,1448.7 187,1439.9 188.2,1428.4 189.8,1412 191.8,1393 194.4,1373 197.7,1352.2 201.5,1330.5 205.5,1308.6 209.7,1286.1 214.1,1263.5 218.4,1243.5 221.6,1228.1 224.7,1215.2 228.3,1201.9 232.7,1186.7 237.6,1171.1 242.6,1156 247.4,1141.6 252.1,1127.8 257.1,1114.7 262.8,1102.7 268.6,1091.7 274.3,1081.5 280.5,1072.6 286.4,1064.6 292.2,1057.3 297.8,1050.8 303.2,1044.9 308.8,1039.2 314.6,1033.6 320.6,1028.1 326.7,1022.9 333.1,1017.7 339.7,1012.7 345.9,1008.1 351.5,1003.9 356.6,1000.1 361.2,997 364.8,994.8 367.7,993.3 372,991.8 378.1,990.2 385.6,988.8 393.8,987.2 403.2,985.6 413.3,983.8 423.6,982.4 433.3,981.3 443.1,980.6 453.5,979.8 464.2,979.1 475.4,978.5 488.4,977.7 502.8,977 518.9,976 538.8,974.8 564,972.9 593.2,970.8 624.1,968.9 656.2,967.6 690.3,966.5 726,965.6 768.1,964.9 811.9,964.4 842.6,964 900,964 900,1700 178.4,1700" fill="#84e40c" stroke="#84e40c" stroke-width="0.6"/>
<polygon points="183.3,1584.2 183.3,1561 183.6,1548.9 184,1531.6 184.9,1513.6 186.5,1495.4 188.6,1476.5 190.4,1460 191.4,1448.7 192,1439.9 193.2,1428.4 194.9,1412 197,1393 199.8,1373 203.1,1352.2 207.1,1330.5 211.2,1308.6 215.7,1286.1 220.3,1263.4 224.8,1243.5 227.9,1228.2 230.9,1215.4 234.3,1202.3 238.6,1187.3 243.4,1171.9 248.2,1157 252.9,1142.9 257.5,1129.2 262.3,1116.4 267.9,1104.6 273.6,1093.7 279.2,1083.6 285.4,1074.8 291.3,1066.9 297.1,1059.7 302.7,1053.3 308.1,1047.5 313.6,1041.9 319.4,1036.4 325.3,1031 331.4,1025.8 337.8,1020.8 344.3,1015.9 350.5,1011.4 356,1007.3 361.2,1003.6 365.8,1000.5 369.3,998.4 372.3,996.9 376.5,995.4 382.5,993.9 389.8,992.4 397.9,990.9 407.1,989.2 417.2,987.5 427.2,986.1 436.9,985 446.6,984.2 456.9,983.5 467.4,982.7 478.5,982 491.4,981.2 505.9,980.4 522.1,979.3 541.9,977.8 566.7,975.7 595.4,973.4 625.8,971.4 657.3,969.7 690.6,968.4 726,967.2 768,966.3 811.8,965.5 842.6,965 900,965 900,1700 183.3,1700" fill="#ffff00" stroke="#ffff00" stroke-width="0.6"/>
<polygon points="190.7,1581.3 190.7,1561 191.1,1548.9 191.8,1531.6 193,1513.6 194.9,1495.4 197.3,1476.5 199.3,1460 200.5,1448.7 201.2,1439.9 202.5,1428.4 204.4,1412 206.7,1393 209.6,1373 213.2,1352.2 217.3,1330.5 221.7,1308.6 226.5,1286 231.6,1263.4 236.5,1243.5 239.5,1228.3 242.4,1215.9 245.7,1203 249.8,1188.4 254.4,1173.4 259,1158.9 263.5,1145.2 267.9,1132.1 272.6,1119.7 278,1108.3 283.6,1097.7 289.1,1087.9 295.1,1079.3 300.9,1071.5 306.6,1064.4 312.1,1058.1 317.4,1052.4 322.8,1047 328.4,1041.6 334.2,1036.4 340.1,1031.4 346.4,1026.5 352.8,1021.8 358.8,1017.4 364.3,1013.4 369.4,1009.8 373.9,1006.7 377.5,1004.7 380.5,1003.3 384.5,1001.9 390.4,1000.4 397.3,998.9 405.1,997.3 414,995.7 423.8,993.9 433.6,992.4 443.1,991.3 452.6,990.5 462.6,989.6 472.9,988.8 483.6,988 496.3,987.1 510.9,986.1 527.4,984.8 547.3,983.3 571.9,981.2 600,978.9 629.6,976.9 659.9,975.2 691.8,973.7 726,972.4 767.7,971.3 811.7,970.3 842.6,969.6 900,969.6 900,1700 190.7,1700" fill="#ffd80c" stroke="#ffd80c" stroke-width="0.6"/>
<polygon points="195.6,1579.9 195.6,1561 196,1548.9 196.7,1531.6 197.8,1513.6 199.7,1495.4 202.1,1476.5 204.1,1460 205.2,1448.7 205.9,1439.9 207.2,1428.4 209.2,1412 211.6,1393 214.7,1373 218.4,1352.2 222.7,1330.5 227.3,1308.6 232.4,1286 237.7,1263.4 242.8,1243.5 245.9,1228.4 248.8,1216.1 252,1203.4 256.1,1189 260.7,1174.2 265.2,1160 269.6,1146.6 274,1133.8 278.6,1121.7 284,1110.5 289.5,1100.1 295,1090.5 301.2,1082.1 307.2,1074.6 313.1,1067.7 318.7,1061.5 324.1,1056 329.6,1050.7 335.3,1045.5 341.1,1040.5 347.1,1035.8 353.3,1031.1 359.8,1026.6 365.8,1022.5 371.4,1018.7 376.6,1015.2 381.2,1012.3 384.7,1010.4 387.7,1009 391.6,1007.6 397.2,1006 403.8,1004.5 411.3,1002.9 419.9,1001.2 429.4,999.3 439,997.8 448.2,996.6 457.5,995.6 467.4,994.7 477.3,993.8 487.8,992.8 500.3,991.8 515,990.6 531.7,989.3 551.6,987.6 575.8,985.4 603.4,983.1 632.4,980.9 661.7,979.1 692.5,977.4 726,976 767.5,974.6 811.6,973.4 842.6,972.5 900,972.5 900,1700 195.6,1700" fill="#ff8808" stroke="#ff8808" stroke-width="0.6"/>
<polygon points="202.9,1578.1 202.9,1561 203.4,1548.9 204.3,1531.6 205.6,1513.6 207.7,1495.4 210.2,1476.5 212.3,1460 213.5,1448.7 214.3,1439.9 215.6,1428.4 217.6,1412 220.2,1393 223.3,1373 227.1,1352.2 231.5,1330.5 236.2,1308.6 241.5,1286 247.1,1263.3 252.4,1243.5 255.8,1228.6 258.9,1216.5 262.4,1204.1 266.7,1190.1 271.4,1175.7 276.2,1161.9 280.7,1149.1 285.3,1136.9 290.1,1125.4 295.6,1114.8 301.2,1104.8 306.8,1095.6 313,1087.5 319.2,1080.3 325.1,1073.7 330.7,1067.7 336.1,1062.4 341.6,1057.3 347.3,1052.4 353.1,1047.8 359,1043.3 365.2,1039 371.5,1034.8 377.5,1031 383.1,1027.4 388.4,1024.2 393,1021.4 396.5,1019.5 399.3,1018.1 403,1016.7 408.2,1015.1 414.3,1013.5 421.2,1011.8 429.3,1009.9 438.3,1007.9 447.4,1006.1 456.2,1004.7 465.2,1003.6 474.6,1002.5 484.1,1001.4 494.1,1000.2 506.4,998.9 521.1,997.5 538.1,995.9 558.1,994.1 582,991.9 608.9,989.6 636.9,987.4 664.8,985.4 693.8,983.7 725.9,982 767.1,980.4 811.4,978.9 842.7,977.8 900,977.8 900,1700 202.9,1700" fill="#ff5404" stroke="#ff5404" stroke-width="0.6"/>
<polygon points="210.3,1576.2 210.3,1561 211,1548.9 212.1,1531.6 213.7,1513.6 216.1,1495.4 218.9,1476.5 221.3,1460 222.6,1448.7 223.5,1439.9 224.9,1428.4 226.9,1412 229.5,1393 232.6,1373 236.4,1352.2 240.7,1330.5 245.5,1308.6 250.8,1286 256.6,1263.3 261.9,1243.5 265.3,1228.7 268.3,1216.9 271.7,1204.7 275.8,1190.9 280.3,1176.9 284.9,1163.5 289.3,1151 293.7,1139.3 298.4,1128.1 303.7,1117.7 309.2,1108 314.7,1099 321.1,1091.2 327.4,1084.2 333.5,1077.8 339.2,1072.1 344.8,1067 350.4,1062.1 356.1,1057.5 361.9,1053.1 367.8,1048.9 374,1044.8 380.3,1041 386.3,1037.4 392,1034 397.4,1031 402.1,1028.4 405.5,1026.6 408.4,1025.3 412,1023.9 416.9,1022.3 422.6,1020.7 429.1,1019 437,1017 445.6,1015 454.5,1013.1 463,1011.7 471.8,1010.5 481,1009.3 490.1,1008.1 499.8,1006.8 511.8,1005.4 526.7,1003.8 544,1002 563.9,999.9 587.3,997.5 613.4,995 640.4,992.5 667.1,990.3 694.8,988.2 725.9,986.2 766.9,984.3 811.2,982.4 842.7,981.1 900,981.1 900,1700 210.3,1700" fill="#f00000" stroke="#f00000" stroke-width="0.6"/>
<polygon points="224.1,1571.4 224.1,1561 225.1,1548.9 226.6,1531.6 228.5,1513.6 231.3,1495.4 234.5,1476.5 237.2,1460 238.7,1448.7 239.7,1439.9 241.2,1428.4 243.2,1412 245.7,1393 248.9,1373 252.7,1352.2 257,1330.5 261.8,1308.6 267.4,1285.9 273.4,1263.2 278.9,1243.5 282.8,1229 286.1,1217.5 289.7,1205.9 294.1,1192.7 298.9,1179.4 303.6,1166.8 308.2,1155.3 312.8,1144.6 317.7,1134.4 323.1,1124.8 328.7,1115.9 334.4,1107.6 340.8,1100.3 347.2,1093.7 353.4,1087.7 359.1,1082.3 364.6,1077.6 370.2,1073.1 375.8,1068.8 381.5,1064.9 387.3,1061.2 393.3,1057.6 399.4,1054.3 405.3,1051.2 411,1048.2 416.4,1045.4 421.1,1043 424.6,1041.4 427.3,1040.2 430.6,1038.9 434.9,1037.3 439.8,1035.7 445.6,1033.8 452.7,1031.7 460.7,1029.5 468.9,1027.5 476.9,1025.9 485.2,1024.5 493.8,1023.1 502.3,1021.6 511.2,1020.1 522.8,1018.3 537.9,1016.3 555.7,1014.1 575.5,1011.5 597.9,1008.8 622.5,1005.9 647.7,1003 671.9,1000.3 696.7,997.6 725.9,995 766.3,992.3 811,989.8 842.7,988 900,988 900,1700 224.1,1700" fill="#c40000" stroke="#c40000" stroke-width="0.6"/>
<rect x="150" y="1518" width="3.2" height="90" fill="#0020c0"/>
</g></g>
<g clip-path="url(#clipC)" stroke="#ffffff" stroke-opacity="0.55" stroke-width="1.3">
<line x1="293.7" y1="959.6" x2="293.7" y2="1615"/>
<line x1="438" y1="959.6" x2="438" y2="1615"/>
<line x1="582.7" y1="959.6" x2="582.7" y2="1615"/>
<line x1="726" y1="959.6" x2="726" y2="1615"/>
<line x1="150.7" y1="1056" x2="842.6" y2="1056"/>
<line x1="150.7" y1="1243.7" x2="842.6" y2="1243.7"/>
<line x1="150.7" y1="1428.4" x2="842.6" y2="1428.4"/>
</g>
<rect x="150.7" y="959.6" width="691.9" height="655.4" fill="none" stroke="#000" stroke-width="1.8"/>
<text x="148" y="928" font-size="21.8" text-anchor="start">Speed Map</text>
<text x="148" y="954" font-size="21.8" text-anchor="start">Turbine part Turbine</text>
<text x="139" y="968.1" font-size="21.8" text-anchor="end">0.01762</text>
<text x="139" y="1064.5" font-size="21.8" text-anchor="end">0.01500</text>
<text x="139" y="1252.2" font-size="21.8" text-anchor="end">0.01000</text>
<text x="139" y="1436.9" font-size="21.8" text-anchor="end">0.00500</text>
<text x="139" y="1623.5" font-size="21.8" text-anchor="end">0.00000</text>
<text x="150.7" y="1640.5" font-size="21.8" text-anchor="middle">1.0</text>
<text x="293.7" y="1640.5" font-size="21.8" text-anchor="middle">1.5</text>
<text x="438" y="1640.5" font-size="21.8" text-anchor="middle">2.0</text>
<text x="582.7" y="1640.5" font-size="21.8" text-anchor="middle">2.5</text>
<text x="726" y="1640.5" font-size="21.8" text-anchor="middle">3.0</text>
<text x="842.6" y="1640.5" font-size="21.8" text-anchor="middle">3.4</text>
<text x="493" y="1677" font-size="21.8" text-anchor="middle">Pressure Ratio</text>
<text transform="translate(23.5,1290) rotate(-90)" font-size="21.8" text-anchor="middle">Reduced Mass Flow Rate [(kg/s)-K^0.5/kPa]</text>
<rect x="857.5" y="979" width="44" height="40.6" fill="#00006a"/>
<rect x="857.5" y="1019.1" width="44" height="40.6" fill="#0000f0"/>
<rect x="857.5" y="1059.3" width="44" height="40.6" fill="#0a50f0"/>
<rect x="857.5" y="1099.4" width="44" height="40.6" fill="#18a8f8"/>
<rect x="857.5" y="1139.5" width="44" height="40.6" fill="#00e0ff"/>
<rect x="857.5" y="1179.7" width="44" height="40.6" fill="#00f4b4"/>
<rect x="857.5" y="1219.8" width="44" height="40.6" fill="#14d860"/>
<rect x="857.5" y="1259.9" width="44" height="40.6" fill="#3cdc08"/>
<rect x="857.5" y="1300.1" width="44" height="40.6" fill="#84e40c"/>
<rect x="857.5" y="1340.2" width="44" height="40.6" fill="#ffff00"/>
<rect x="857.5" y="1380.3" width="44" height="40.6" fill="#ffd80c"/>
<rect x="857.5" y="1420.5" width="44" height="40.6" fill="#ff8808"/>
<rect x="857.5" y="1460.6" width="44" height="40.6" fill="#ff5404"/>
<rect x="857.5" y="1500.7" width="44" height="40.6" fill="#f00000"/>
<rect x="857.5" y="1540.9" width="44" height="40.6" fill="#c40000"/>
<text x="906" y="988.5" font-size="21.8" text-anchor="start">0</text>
<text x="906" y="1028.6" font-size="21.8" text-anchor="start">413</text>
<text x="906" y="1068.8" font-size="21.8" text-anchor="start">827</text>
<text x="906" y="1108.9" font-size="21.8" text-anchor="start">1240</text>
<text x="906" y="1149" font-size="21.8" text-anchor="start">1653</text>
<text x="906" y="1189.2" font-size="21.8" text-anchor="start">2067</text>
<text x="906" y="1229.3" font-size="21.8" text-anchor="start">2480</text>
<text x="906" y="1269.4" font-size="21.8" text-anchor="start">2893</text>
<text x="906" y="1309.6" font-size="21.8" text-anchor="start">3307</text>
<text x="906" y="1349.7" font-size="21.8" text-anchor="start">3720</text>
<text x="906" y="1389.8" font-size="21.8" text-anchor="start">4133</text>
<text x="906" y="1430" font-size="21.8" text-anchor="start">4547</text>
<text x="906" y="1470.1" font-size="21.8" text-anchor="start">4960</text>
<text x="906" y="1510.2" font-size="21.8" text-anchor="start">5373</text>
<text x="906" y="1550.4" font-size="21.8" text-anchor="start">5787</text>
<text x="906" y="1590.5" font-size="21.8" text-anchor="start">6200</text>
<text transform="translate(-0.4,1736) scale(0.91,1)" font-size="32.8" class="lab">(c)</text>
<defs><clipPath id="clipD"><polygon points="1118.7,1612 1120,1611 1126.4,1602 1135.3,1593.3 1147.9,1585.7 1166.9,1579.4 1185.8,1573 1198,1569 1201.6,1565 1202,1563 1202.9,1547.6 1204.5,1530 1206.6,1511.6 1209.5,1493 1213,1473.7 1215.8,1456.9 1217.3,1445.4 1218.3,1436.4 1219.9,1424.7 1222.3,1408 1225.4,1388.6 1229,1368.2 1233.3,1347 1238.2,1324.8 1243.7,1302.5 1250.1,1279.4 1257.1,1256.1 1263.4,1236.1 1268.2,1221.6 1272.4,1210.3 1276.9,1198.9 1282.1,1186.1 1287.7,1173.2 1293.2,1161.2 1298.6,1150.5 1303.9,1140.8 1309.5,1131.6 1315.5,1122.9 1321.7,1114.7 1327.9,1107.1 1334,1100.1 1340.2,1093.7 1346.2,1087.8 1351.8,1082.5 1357.1,1077.8 1362.5,1073.5 1367.9,1069.4 1373.3,1065.7 1378.8,1062.3 1384.6,1059 1390.4,1056 1396.1,1053.1 1401.7,1050.2 1407.2,1047.5 1411.8,1045.2 1415.1,1043.6 1417.6,1042.3 1420.6,1040.9 1424.2,1039.1 1428.2,1037.1 1433.2,1034.9 1439.5,1032.4 1446.7,1029.6 1454.2,1027.1 1461.7,1025.1 1469.4,1023.3 1477.6,1021.5 1485.5,1019.5 1493.8,1017.5 1505.1,1015.3 1520.5,1012.7 1538.9,1010 1559.1,1007.2 1581.3,1004.2 1605.4,1001.1 1629.9,998 1652.9,994.9 1676.4,991.8 1704.7,988.8 1745.5,985.7 1791.2,982.8 1823.7,980.7 1823.6,947 1792.4,947 1748.1,946.9 1704.8,947 1667.1,947.3 1630.4,947.8 1595.8,948.6 1562.7,949.9 1531.7,951.6 1505.1,953 1484.7,953.9 1468.7,954.5 1454.2,955 1440.7,955.5 1428.7,956 1417.3,956.6 1406.4,957.3 1396.1,958 1385.7,959 1374.9,960.4 1364.1,962.1 1354.1,963.8 1345.2,965.3 1337.1,966.8 1330.4,968.4 1325.9,970 1322.9,971.7 1319.3,974.1 1314.5,977.4 1309.2,981.3 1303.4,985.8 1296.9,990.7 1289.9,996.1 1283,1001.7 1276.5,1007.3 1270.2,1013.1 1264,1019.1 1258.1,1025.1 1252.4,1031.2 1246.6,1038.1 1240.4,1045.7 1234.1,1054.1 1227.6,1063.5 1220.8,1074 1213.8,1085.6 1207,1098.3 1200.6,1112.2 1194.3,1127.1 1188.1,1142.6 1181.6,1158.8 1175.1,1175.6 1169.1,1191.8 1164.1,1206.1 1159.6,1219.9 1155.3,1236.1 1151.1,1256.7 1147,1279.6 1143,1302.5 1139,1324.8 1135,1347 1131.5,1368.2 1128.8,1388.6 1126.7,1408 1125,1424.7 1124,1436.4 1123.3,1445.4 1122.6,1456.9 1121.2,1473.7 1119.8,1493 1118.7,1511.6 1118.4,1530 1118.6,1547.6 1118.7,1564"/></clipPath></defs>
<line x1="1264.4" y1="946.6" x2="1264.4" y2="1615" stroke="#9a9a9a" stroke-width="1.3"/>
<line x1="1411.8" y1="946.6" x2="1411.8" y2="1615" stroke="#9a9a9a" stroke-width="1.3"/>
<line x1="1558.6" y1="946.6" x2="1558.6" y2="1615" stroke="#9a9a9a" stroke-width="1.3"/>
<line x1="1705.5" y1="946.6" x2="1705.5" y2="1615" stroke="#9a9a9a" stroke-width="1.3"/>
<line x1="1118.7" y1="1045.3" x2="1823.5" y2="1045.3" stroke="#9a9a9a" stroke-width="1.3"/>
<line x1="1118.7" y1="1236" x2="1823.5" y2="1236" stroke="#9a9a9a" stroke-width="1.3"/>
<line x1="1118.7" y1="1423.8" x2="1823.5" y2="1423.8" stroke="#9a9a9a" stroke-width="1.3"/>
<g clip-path="url(#clipD)"><g filter="url(#soft)">
<rect x="1050" y="900" width="850" height="780" fill="#c40000"/>
<polygon points="2000,1153 1294,1153 1289.8,1155.9 1283.9,1159.9 1277,1164.8 1270,1170 1263.2,1175.7 1256.1,1182 1248.5,1188.6 1240,1195 1229.7,1201.2 1218.1,1207.5 1207,1213.8 1198.4,1220 1193.2,1226.2 1190.1,1232.5 1188.1,1238.7 1185.8,1245 1183.1,1251.3 1180.5,1257.7 1178.1,1264.1 1175.7,1270.5 1173.4,1276.9 1171.1,1283.4 1168.9,1289.7 1166.9,1295.8 1165,1301.5 1163.3,1307 1161.7,1312.4 1160,1318 1158.2,1324 1156.4,1330.1 1154.7,1336.2 1153,1342 1151.4,1347.4 1149.8,1352.5 1148.4,1357.4 1147,1362 1145.7,1366.7 1144.4,1371.2 1143.3,1375.2 1142.5,1378 1138.5,1368.2 1142,1347 1146,1324.8 1150,1302.5 1154,1279.6 1158.1,1256.6 1162.6,1236.1 1167.2,1220 1171.9,1206.4 1177.3,1192.3 1183.6,1176.4 1190.4,1160 1197.3,1144.3 1203.8,1129.3 1210.3,1114.9 1217,1101.5 1224.1,1089.4 1231.3,1078.3 1238.4,1068.2 1245.2,1059.2 1251.7,1051.2 1258.1,1043.9 1264.2,1037.3 1270.1,1031.5 1276.2,1025.9 1282.7,1020.4 1289.4,1015.1 1296.2,1010 1303.3,1005 1310.6,1000.3 1317.3,995.9 1323.4,991.9 1329,988.3 1334,985.3 1337.7,983.3 1340.9,981.8 1345.5,980.6 1352.5,979.6 1360.8,978.8 1370,978 1380.3,977.2 1391.5,976.4 1402.7,975.8 1413.4,975.7 1424.1,975.8 1435.3,976 1446.8,976.3 1458.9,976.8 1472.8,977.1 1488.5,976.8 1506.2,976.2 1527.9,975.9 1555.1,976.4 1585.9,977.7 1617.3,979.8 1647.5,983.6 1675.6,988.1 1704.7,990.7 1745.3,988.7 1791.1,985.8 1823.7,983.7 1850,900 1000,900 1000,1700 2000,1700" fill="#f00000" fill-rule="evenodd"/>
<polygon points="2000,1174 1285.9,1174 1282.2,1176.6 1276.8,1180.2 1270.6,1184.4 1264,1188.7 1256.8,1193.1 1248.9,1198 1241,1202.7 1234,1207 1228.2,1210.3 1223,1213.1 1218.3,1216 1213.6,1220 1208.9,1225.5 1204.4,1231.9 1200.1,1238.7 1195.9,1245.3 1191.8,1251.8 1187.9,1258.3 1184.2,1264.6 1180.8,1270.5 1177.8,1275.7 1175.2,1280.4 1172.9,1284.9 1170.6,1289.5 1168.5,1294.2 1166.5,1299 1164.7,1303.7 1163,1308.4 1161.6,1313 1160.4,1317.5 1159.3,1322.2 1158,1327.4 1156.5,1333.3 1154.9,1339.7 1153.2,1346.2 1151.7,1352.7 1150.4,1358.9 1149.2,1365 1147.9,1371.2 1146.6,1378 1145.1,1385.8 1143.4,1394.4 1141.8,1402.7 1140.3,1409.5 1138.9,1414 1137.7,1417.1 1136.5,1419.9 1135.3,1424 1134.1,1429.7 1133,1436.3 1131.9,1443.3 1130.8,1450.5 1129.7,1457.8 1128.6,1465.3 1127.5,1473 1126.4,1480.9 1125.4,1489 1124.4,1497.2 1123.5,1505.5 1122.6,1513.7 1121.7,1522.4 1120.8,1531.4 1120,1539.4 1119.5,1545 1000,1545 1000,1700 2000,1700" fill="#ff5404" stroke="#ff5404" stroke-width="0.6"/>
<polygon points="2000,1205 1273.5,1205 1270.3,1207.6 1265.8,1211.3 1260.5,1215.6 1254.9,1219.7 1248.9,1223.3 1242.3,1226.9 1235.5,1230.9 1229,1236 1222.8,1242.5 1216.6,1250.2 1210.6,1258.2 1205,1266 1199.8,1273.6 1194.8,1281.3 1190.2,1288.7 1185.8,1295.8 1181.7,1302.2 1177.9,1308.1 1174.3,1313.9 1171,1320 1168.1,1326 1165.7,1331.9 1163.2,1338.5 1160.5,1346.3 1157.2,1356.2 1153.6,1367.7 1150.1,1379.3 1147,1390 1144.5,1399.4 1142.5,1408.1 1140.7,1416.3 1139,1424 1137.5,1431.1 1136.3,1437.6 1135.2,1444 1134,1450.5 1132.7,1457.2 1131.5,1464 1130.2,1471 1129,1478.3 1127.9,1486 1126.8,1494.1 1125.6,1502.4 1124.5,1511.2 1123.2,1521.4 1121.7,1532.7 1120.4,1542.9 1119.5,1550 1000,1550 1000,1700 2000,1700" fill="#ff8808" stroke="#ff8808" stroke-width="0.6"/>
<polygon points="2000,1230 1265.5,1230 1264.1,1230.6 1262.2,1231.2 1259.4,1232.8 1255.3,1236.2 1249.3,1242 1241.7,1249.6 1233.7,1258 1226,1266 1218.8,1273.6 1211.5,1281.3 1204.6,1288.7 1198.4,1295.8 1193.1,1302.2 1188.4,1308.1 1184.1,1313.9 1180,1320 1176.1,1326 1172.6,1331.9 1169.1,1338.5 1165.6,1346.3 1161.8,1356.2 1157.9,1367.7 1154.2,1379.3 1151,1390 1148.5,1399.4 1146.4,1408.1 1144.6,1416.3 1142.8,1424 1141.1,1431.2 1139.4,1437.8 1137.9,1444.1 1136.5,1450.5 1135.2,1456.8 1133.9,1462.8 1132.7,1469.1 1131.5,1475.8 1130.2,1483.3 1128.9,1491.2 1127.6,1499.4 1126.4,1507.4 1125.3,1515.5 1124.4,1523.9 1123.5,1531.8 1122.6,1539 1121.7,1545.5 1120.8,1551.5 1120,1556.5 1119.5,1560 1000,1560 1000,1700 2000,1700" fill="#ffd80c" stroke="#ffd80c" stroke-width="0.6"/>
<polygon points="2000,1280.6 1249.6,1280.6 1244.2,1283.1 1236.3,1286.6 1227.7,1290.9 1219.9,1295.8 1213.2,1301.6 1206.8,1308.3 1200.7,1315.3 1195,1322 1189.7,1327.8 1184.9,1333.1 1180.3,1338.9 1175.7,1346.3 1171,1356.1 1166.3,1367.5 1161.9,1379.3 1158,1390 1154.9,1399.4 1152.3,1408.2 1150,1416.4 1147.9,1424 1145.9,1430.7 1144.2,1436.5 1142.6,1442.1 1141,1448 1139.3,1454.1 1137.7,1460.3 1136.1,1466.6 1134.6,1473.3 1133.1,1480.5 1131.7,1488 1130.3,1495.7 1129,1503.6 1127.7,1511.6 1126.5,1519.8 1125.4,1528.2 1124.2,1536.5 1122.9,1545.6 1121.6,1555.3 1120.3,1564 1119.5,1570 1000,1570 1000,1700 2000,1700" fill="#ffff00" stroke="#ffff00" stroke-width="0.6"/>
<polygon points="2000,1300.9 1244.6,1300.9 1239.2,1304.8 1231.3,1310.5 1222.7,1316.9 1215,1323 1208.6,1328.3 1202.5,1333.3 1196.7,1339 1190.9,1346.3 1184.9,1356 1178.8,1367.5 1173.1,1379.3 1168,1390 1163.8,1399.4 1160.2,1408.3 1157.1,1416.5 1154.2,1424 1151.6,1430.4 1149.4,1436 1147.4,1441.2 1145.4,1446.7 1143.4,1452.5 1141.4,1458.3 1139.6,1464.3 1137.8,1470.8 1136.1,1477.9 1134.5,1485.4 1133,1493.2 1131.5,1501 1130,1508.6 1128.6,1516.1 1127.3,1524 1125.8,1532.7 1124.1,1543.5 1122.3,1555.8 1120.6,1567.2 1119.5,1575 1000,1575 1000,1700 2000,1700" fill="#84e40c" stroke="#84e40c" stroke-width="0.6"/>
<polygon points="2000,1327.4 1238.9,1327.4 1232.8,1330.2 1224.1,1334.1 1214.5,1339.4 1206,1346.3 1198.8,1355.7 1192,1367.2 1185.7,1379.2 1180,1390 1175,1399.5 1170.6,1408.5 1166.6,1416.7 1163,1424 1159.7,1430 1156.8,1434.8 1154.2,1439.3 1151.7,1444.2 1149.3,1449.6 1147,1455.1 1144.9,1460.9 1142.8,1467 1140.8,1473.5 1138.9,1480.4 1137.1,1487.5 1135.3,1494.8 1133.7,1501.9 1132.3,1508.9 1130.8,1516.8 1129,1526.3 1126.6,1539.4 1123.9,1555.1 1121.3,1569.8 1119.5,1580 1000,1580 1000,1700 2000,1700" fill="#3cdc08" stroke="#3cdc08" stroke-width="0.6"/>
<polygon points="2000,1343 1234.5,1343 1229.1,1350.6 1221.4,1361.6 1212.9,1373.7 1205,1385 1197.8,1395.5 1190.7,1406 1184,1415.8 1178.2,1424 1173.5,1429.8 1169.6,1433.9 1166.3,1437.5 1163,1441.7 1159.9,1446.7 1157,1452 1154.3,1457.5 1151.7,1463.2 1149,1469.2 1146.4,1475.6 1143.9,1482 1141.6,1488.4 1139.5,1494.7 1137.6,1501 1135.7,1507.4 1134,1513.7 1132.4,1519.5 1130.9,1525.1 1129.4,1531.2 1127.7,1539 1125.6,1550.1 1123.2,1563.6 1121,1576.2 1119.5,1585 1000,1585 1000,1700 2000,1700" fill="#14d860" stroke="#14d860" stroke-width="0.6"/>
<polygon points="2000,1390.6 1225.2,1390.6 1219.6,1397.1 1211.6,1406.4 1203,1416.2 1195.9,1424 1190.9,1428.7 1186.9,1431.8 1183.3,1434.4 1179.5,1437.9 1175.3,1442.4 1171,1447.4 1166.9,1452.6 1163,1458 1159.5,1463.5 1156.3,1469.2 1153.3,1475 1150.4,1480.9 1147.6,1486.9 1145,1493 1142.6,1499.1 1140.3,1504.9 1138.2,1510.4 1136.3,1515.7 1134.4,1520.9 1132.7,1526.3 1131,1531.5 1129.5,1536.4 1128,1542 1126.4,1549 1124.6,1558.9 1122.6,1570.9 1120.8,1582.2 1119.5,1590 1000,1590 1000,1700 2000,1700" fill="#00f4b4" stroke="#00f4b4" stroke-width="0.6"/>
<polygon points="2000,1430.3 1218.4,1430.3 1214.8,1432.3 1209.6,1435 1203.8,1438.3 1198.4,1441.7 1193.6,1445.1 1188.9,1448.7 1184.2,1452.6 1179.5,1456.9 1174.6,1461.8 1169.6,1467.3 1164.8,1472.9 1160.5,1478.3 1156.8,1483.4 1153.6,1488.4 1150.7,1493.4 1147.9,1498.5 1145.1,1503.8 1142.5,1509.2 1140.1,1514.6 1137.8,1520 1135.7,1525.3 1133.8,1530.7 1131.9,1536 1130.2,1541.5 1128.5,1546.9 1126.9,1552.3 1125.3,1557.9 1123.9,1564.2 1122.6,1572.1 1121.3,1581 1120.2,1589.3 1119.5,1595 1000,1595 1000,1700 2000,1700" fill="#00e0ff" stroke="#00e0ff" stroke-width="0.6"/>
<polygon points="2000,1460.6 1213.6,1460.6 1209.7,1462.8 1204,1466 1197.8,1469.7 1192.1,1473.3 1187,1477 1182.1,1480.9 1177.4,1484.7 1173.2,1488.4 1169.6,1491.6 1166.5,1494.6 1163.5,1497.6 1160.5,1501 1157.3,1504.9 1154,1509 1150.9,1513.3 1147.9,1517.5 1145.2,1521.5 1142.6,1525.5 1140.2,1529.6 1137.8,1534 1135.5,1538.7 1133.2,1543.8 1131,1548.9 1129,1554 1127.2,1559 1125.4,1564 1123.9,1569.1 1122.6,1574.4 1121.5,1580.6 1120.6,1587.5 1120,1593.7 1119.5,1598 1000,1598 1000,1700 2000,1700" fill="#18a8f8" stroke="#18a8f8" stroke-width="0.6"/>
<polygon points="2000,1474.5 1211.7,1474.5 1208.2,1476.5 1203.1,1479.3 1197.4,1482.6 1192.1,1486 1187.2,1489.6 1182.2,1493.4 1177.5,1497.3 1173.2,1501 1169.6,1504.3 1166.5,1507.3 1163.5,1510.4 1160.5,1513.7 1157.3,1517.2 1154.2,1520.8 1151,1524.7 1147.9,1528.9 1144.6,1533.7 1141.3,1539 1138.1,1544.2 1135.3,1549 1133,1553.1 1131.1,1556.9 1129.3,1560.5 1127.7,1564.2 1126.1,1567.9 1124.5,1571.5 1123.2,1575.2 1122,1579.4 1121.1,1584.7 1120.4,1590.7 1119.9,1596.2 1119.5,1600 1000,1600 1000,1700 2000,1700" fill="#0a50f0" stroke="#0a50f0" stroke-width="0.6"/>
<polygon points="2000,1491 1209.8,1491 1206.6,1492.7 1202.1,1495.2 1197,1498.1 1192.1,1501 1187.3,1504 1182.3,1507.2 1177.5,1510.5 1173.2,1513.7 1169.6,1516.8 1166.5,1519.8 1163.5,1523 1160.5,1526.3 1157.3,1529.9 1154.2,1533.6 1151,1537.5 1147.9,1541.5 1144.7,1545.8 1141.4,1550.3 1138.2,1554.9 1135.3,1559.2 1132.7,1563.3 1130.4,1567.4 1128.3,1571.1 1126.4,1574.4 1124.8,1576.8 1123.5,1578.5 1122.3,1580.4 1121.4,1583.2 1120.7,1587.8 1120.1,1593.6 1119.8,1599.2 1119.5,1603 1000,1603 1000,1700 2000,1700" fill="#0000f0" stroke="#0000f0" stroke-width="0.6"/>
<polygon points="2000,1536.4 1204.1,1536.4 1200.8,1537.3 1196.1,1538.6 1190.8,1540.1 1185.8,1541.5 1181.1,1542.7 1176.4,1543.7 1171.6,1545 1166.9,1546.6 1162,1548.7 1157,1551.3 1152.2,1554 1147.9,1556.7 1144.2,1559.4 1141,1562.3 1138,1565.1 1135.3,1568 1132.7,1570.9 1130.4,1573.8 1128.3,1576.6 1126.4,1579.4 1124.8,1581.9 1123.5,1584.1 1122.3,1586.6 1121.4,1589.5 1120.7,1593.6 1120.1,1598.4 1119.8,1602.9 1119.5,1606 1000,1606 1000,1700 2000,1700" fill="#00006a" stroke="#00006a" stroke-width="0.6"/>
<polygon points="1082.6,1493 1084,1473.7 1085.4,1456.9 1086.1,1445.4 1086.8,1436.4 1087.8,1424.7 1089.5,1408 1091.6,1388.6 1094.3,1368.2 1097.8,1347 1101.8,1324.8 1105.8,1302.5 1109.8,1279.7 1113.9,1256.9 1118.3,1236.1 1122.8,1219.3 1127.5,1204.7 1132.9,1189.4 1139.2,1172.1 1146.1,1154 1153.2,1136.5 1160,1119.4 1167,1102.9 1174.1,1087.6 1181.6,1073.8 1189.3,1061.3 1196.7,1050.1 1203.8,1040.1 1210.6,1031.4 1217.2,1023.5 1223.5,1016.3 1229.6,1009.9 1236,1003.7 1242.7,997.3 1249.7,991.2 1256.9,985.1 1264.4,979.2 1272.1,973.4 1279.2,968.2 1285.5,963.7 1291.2,959.7 1296.3,956.4 1300.2,954 1303.5,952.3 1308.3,950.7 1315.5,948.9 1324.3,947.3 1334,945.6 1344.7,944 1356.2,942.4 1367.7,941.1 1378.7,940.2 1389.6,939.7 1401.1,939.1 1412.9,938.4 1425.4,937.8 1439.3,937.3 1453.5,937.4 1469,937.7 1489.5,937.4 1516.9,935.9 1549.3,933.8 1584.1,931.6 1621.7,929.5 1663,928 1704.9,927.7 1749.3,928.1 1793.1,928.6 1823.6,929 1823.7,969 1791.7,968.6 1746.7,968 1704.8,967.7 1671.2,967.1 1639,965.6 1606.8,964.5 1574.9,964.6 1544.4,965 1517.8,965.7 1496.8,966.5 1480.1,967.3 1465.1,967.9 1451.5,968.1 1439.6,968.2 1428.3,968.4 1417.3,968.6 1406.7,968.8 1396.1,969.3 1385,970.1 1373.9,971.2 1363.7,972.4 1354.6,973.4 1346.3,974.5 1339.5,975.7 1334.9,977.1 1331.7,978.6 1328,980.8 1323.1,983.8 1317.6,987.6 1311.6,991.7 1304.9,996.3 1297.7,1001.3 1290.7,1006.5 1284,1011.8 1277.4,1017.3 1271,1023 1264.9,1028.7 1259.1,1034.7 1253,1041.3 1246.7,1048.7 1240.1,1056.9 1233.4,1066 1226.4,1076.3 1219.2,1087.6 1212.2,1099.9 1205.5,1113.5 1199,1128.2 1192.5,1143.4 1185.8,1159.4 1179,1176 1172.8,1192 1167.5,1206.2 1162.8,1220 1158.3,1236.1 1153.9,1256.7 1149.8,1279.6 1145.8,1302.5 1141.8,1324.8 1137.8,1347 1134.3,1368.2 1131.6,1388.6 1129.5,1408 1127.8,1424.7 1126.8,1436.4 1126.1,1445.4 1125.4,1456.9 1124,1473.7 1122.6,1493" fill="#ff5404"/>
<polygon points="1082,1493 1083.4,1473.7 1084.8,1456.9 1085.5,1445.4 1086.2,1436.4 1087.2,1424.7 1088.9,1408 1091,1388.6 1093.7,1368.2 1097.2,1347 1101.2,1324.8 1105.2,1302.5 1109.2,1279.7 1113.3,1256.9 1117.7,1236.1 1122.1,1219.3 1126.8,1204.7 1132,1189.3 1138.3,1172 1145.2,1153.9 1152.1,1136.3 1158.9,1119.2 1165.8,1102.5 1172.9,1087.2 1180.3,1073.3 1187.9,1060.8 1195.3,1049.4 1202.3,1039.5 1209.1,1030.7 1215.6,1022.7 1221.9,1015.5 1227.9,1009 1234.2,1002.7 1240.9,996.3 1247.9,990 1255,983.9 1262.5,977.9 1270.1,972 1277.2,966.8 1283.4,962.1 1289.1,958.1 1294.1,954.7 1298,952.3 1301.2,950.5 1306,948.9 1313.2,947 1322,945.2 1331.6,943.5 1342.2,941.7 1353.7,939.9 1365.1,938.5 1376.1,937.5 1386.9,936.9 1398.3,936.2 1410.2,935.3 1422.7,934.6 1436.5,934 1450.6,934.1 1465.9,934.5 1486.3,934.1 1513.6,932.4 1546.1,930 1581.2,927.4 1619.5,924.8 1661.9,922.7 1704.9,922.1 1749.7,922.4 1793.3,922.8 1823.5,923 1823.7,963 1791.9,962.7 1747.1,962.3 1704.8,962.1 1670.1,961.8 1636.7,960.9 1603.9,960.3 1571.7,960.7 1541.1,961.5 1514.5,962.4 1493.7,963.2 1477.2,964 1462.3,964.6 1448.7,964.9 1436.9,965.2 1425.5,965.5 1414.5,965.8 1404,966.1 1393.5,966.7 1382.5,967.7 1371.5,969 1361.3,970.2 1352.2,971.4 1344,972.6 1337.2,973.9 1332.6,975.3 1329.5,976.9 1325.8,979.1 1321,982.2 1315.5,986 1309.6,990.3 1302.9,994.9 1295.8,1000 1288.8,1005.3 1282.1,1010.7 1275.6,1016.3 1269.2,1022 1263.2,1027.8 1257.4,1033.8 1251.4,1040.5 1245.1,1048 1238.6,1056.2 1232,1065.4 1225,1075.7 1217.9,1087.1 1210.9,1099.5 1204.3,1113.2 1197.9,1127.9 1191.5,1143.2 1184.8,1159.3 1178.1,1175.9 1172,1192 1166.7,1206.2 1162.1,1219.9 1157.7,1236.1 1153.3,1256.7 1149.2,1279.6 1145.2,1302.5 1141.2,1324.8 1137.2,1347 1133.7,1368.2 1131,1388.6 1128.9,1408 1127.2,1424.7 1126.2,1436.4 1125.5,1445.4 1124.8,1456.9 1123.4,1473.7 1122,1493" fill="#ff8808"/>
<polygon points="1081.5,1493 1082.9,1473.7 1084.3,1456.9 1085,1445.4 1085.7,1436.4 1086.7,1424.7 1088.4,1408 1090.5,1388.6 1093.2,1368.2 1096.7,1347 1100.7,1324.8 1104.7,1302.5 1108.7,1279.7 1112.8,1256.9 1117.1,1236.1 1121.5,1219.3 1126.1,1204.6 1131.3,1189.3 1137.5,1171.9 1144.3,1153.8 1151.1,1136.1 1157.8,1118.9 1164.7,1102.2 1171.7,1086.8 1179.1,1072.9 1186.6,1060.2 1193.9,1048.8 1200.9,1038.8 1207.5,1030 1214,1021.9 1220.2,1014.6 1226.2,1008.1 1232.5,1001.7 1239.1,995.2 1245.9,988.8 1252.9,982.6 1260.3,976.4 1267.8,970.4 1274.8,965 1281,960.3 1286.5,956.1 1291.5,952.7 1295.3,950.2 1298.5,948.4 1303.2,946.6 1310.3,944.6 1319,942.6 1328.5,940.7 1339,938.7 1350.4,936.7 1361.7,935 1372.5,933.8 1383.2,933 1394.5,932.1 1406.4,931.2 1419,930.3 1432.8,929.6 1446.6,929.7 1461.8,930.2 1481.9,929.8 1509.3,927.9 1541.9,925 1577.3,921.8 1616.4,918.3 1660.4,915.3 1704.9,914.3 1750.3,914.1 1793.6,914.1 1823.5,914 1823.6,954 1792.2,954 1747.6,954 1704.8,954.3 1668.6,954.5 1633.6,954.4 1600,954.7 1567.5,955.7 1536.7,956.9 1510.2,958.1 1489.5,958.9 1473.2,959.6 1458.6,960.2 1445,960.6 1433.1,961 1421.8,961.4 1410.8,961.9 1400.4,962.4 1390,963.2 1379.1,964.5 1368.3,966 1358.3,967.5 1349.3,968.8 1341.1,970.2 1334.4,971.7 1329.9,973.2 1326.8,974.8 1323.2,977.1 1318.4,980.3 1313,984.2 1307.2,988.5 1300.6,993.3 1293.6,998.6 1286.7,1004 1280.1,1009.5 1273.7,1015.2 1267.5,1021.1 1261.5,1026.9 1255.8,1033 1249.8,1039.7 1243.6,1047.3 1237.2,1055.5 1230.6,1064.8 1223.7,1075.2 1216.6,1086.6 1209.7,1099.1 1203.2,1112.9 1196.9,1127.7 1190.5,1143.1 1183.9,1159.1 1177.3,1175.8 1171.2,1191.9 1166.1,1206.2 1161.5,1219.9 1157.1,1236.1 1152.8,1256.7 1148.7,1279.6 1144.7,1302.5 1140.7,1324.8 1136.7,1347 1133.2,1368.2 1130.5,1388.6 1128.4,1408 1126.7,1424.7 1125.7,1436.4 1125,1445.4 1124.3,1456.9 1122.9,1473.7 1121.5,1493" fill="#ffd80c"/>
<polygon points="1081,1493 1082.4,1473.7 1083.8,1456.9 1084.5,1445.4 1085.2,1436.4 1086.2,1424.7 1087.9,1408 1090,1388.6 1092.7,1368.2 1096.2,1347 1100.2,1324.8 1104.2,1302.5 1108.2,1279.7 1112.3,1256.9 1116.6,1236.1 1120.9,1219.3 1125.5,1204.6 1130.7,1189.2 1136.8,1171.8 1143.6,1153.7 1150.5,1136 1157.2,1118.8 1164,1102 1171,1086.5 1178.3,1072.6 1185.9,1059.9 1193.2,1048.5 1200.1,1038.4 1206.7,1029.6 1213.2,1021.5 1219.4,1014.2 1225.4,1007.7 1231.6,1001.3 1238.2,994.7 1245,988.3 1252,982.1 1259.4,975.8 1266.9,969.8 1273.9,964.4 1280,959.6 1285.6,955.4 1290.6,952 1294.3,949.4 1297.6,947.6 1302.3,945.8 1309.4,943.8 1318,941.8 1327.6,939.8 1338,937.8 1349.4,935.7 1360.7,934 1371.4,932.8 1382.2,931.9 1393.5,931 1405.4,930 1417.9,929 1431.7,928.4 1445.5,928.5 1460.5,928.9 1480.6,928.5 1508,926.5 1540.7,923.4 1576.2,920.1 1615.5,916.5 1660,913.3 1704.9,912.3 1750.4,912.1 1793.6,912.1 1823.5,912 1823.6,952 1792.3,952 1747.7,952 1704.8,952.3 1668.2,952.5 1632.7,952.6 1598.9,953 1566.3,954.2 1535.4,955.6 1508.9,956.8 1488.3,957.7 1472.1,958.3 1457.5,958.9 1444,959.4 1432.1,959.8 1420.7,960.3 1409.8,960.8 1399.4,961.4 1389,962.2 1378.2,963.5 1367.3,965 1357.3,966.6 1348.3,968 1340.2,969.4 1333.5,970.9 1329,972.4 1325.9,974 1322.3,976.3 1317.5,979.6 1312.1,983.5 1306.3,987.9 1299.7,992.7 1292.7,998 1285.8,1003.4 1279.2,1009 1272.8,1014.7 1266.6,1020.6 1260.7,1026.5 1254.9,1032.5 1249,1039.3 1242.8,1046.9 1236.4,1055.2 1229.8,1064.5 1223,1074.9 1215.9,1086.4 1209,1098.9 1202.5,1112.7 1196.2,1127.5 1189.9,1142.9 1183.3,1159.1 1176.7,1175.7 1170.6,1191.9 1165.5,1206.2 1160.9,1219.9 1156.6,1236.1 1152.3,1256.7 1148.2,1279.6 1144.2,1302.5 1140.2,1324.8 1136.2,1347 1132.7,1368.2 1130,1388.6 1127.9,1408 1126.2,1424.7 1125.2,1436.4 1124.5,1445.4 1123.8,1456.9 1122.4,1473.7 1121,1493" fill="#ffff00"/>
<polygon points="1080.4,1493 1081.8,1473.7 1083.2,1456.9 1083.9,1445.4 1084.6,1436.4 1085.6,1424.7 1087.3,1408 1089.4,1388.6 1092.1,1368.2 1095.6,1347 1099.6,1324.8 1103.6,1302.5 1107.6,1279.7 1111.7,1256.9 1115.9,1236.1 1120.3,1219.3 1124.8,1204.6 1130,1189.2 1136.1,1171.7 1142.8,1153.6 1149.6,1135.8 1156.2,1118.6 1163,1101.8 1170,1086.2 1177.3,1072.2 1184.8,1059.5 1192,1048 1198.9,1037.9 1205.5,1029 1212,1020.9 1218.1,1013.5 1224.1,1007 1230.3,1000.5 1236.9,994 1243.7,987.5 1250.7,981.2 1258,975 1265.6,968.9 1272.6,963.4 1278.7,958.6 1284.3,954.4 1289.2,950.9 1293,948.4 1296.2,946.6 1300.9,944.8 1308,942.7 1316.7,940.7 1326.2,938.6 1336.7,936.5 1348,934.4 1359.3,932.7 1370.1,931.4 1380.8,930.5 1392.1,929.5 1404,928.5 1416.6,927.5 1430.3,926.7 1444.1,926.8 1459,927.3 1479,926.8 1506.3,924.7 1539.1,921.5 1574.7,918 1614.4,914.1 1659.4,910.7 1704.9,909.5 1750.6,909.3 1793.7,909.1 1823.5,909 1823.6,949 1792.4,949.1 1747.9,949.2 1704.8,949.5 1667.6,949.9 1631.6,950.2 1597.4,950.9 1564.7,952.2 1533.8,953.8 1507.2,955.2 1486.8,956.1 1470.7,956.7 1456.1,957.3 1442.6,957.8 1430.7,958.3 1419.4,958.8 1408.4,959.4 1398,960 1387.7,960.9 1376.8,962.2 1365.9,963.8 1355.9,965.4 1346.9,966.8 1338.8,968.3 1332.1,969.8 1327.6,971.3 1324.5,973 1320.9,975.3 1316.1,978.6 1310.8,982.5 1304.9,986.9 1298.4,991.8 1291.4,997.1 1284.5,1002.6 1277.9,1008.2 1271.5,1013.9 1265.3,1019.9 1259.4,1025.8 1253.7,1031.9 1247.8,1038.7 1241.6,1046.3 1235.3,1054.6 1228.7,1064 1221.9,1074.5 1214.9,1086 1208,1098.6 1201.6,1112.4 1195.3,1127.3 1189,1142.8 1182.4,1158.9 1175.9,1175.7 1169.9,1191.8 1164.8,1206.1 1160.3,1219.9 1155.9,1236.1 1151.7,1256.7 1147.6,1279.6 1143.6,1302.5 1139.6,1324.8 1135.6,1347 1132.1,1368.2 1129.4,1388.6 1127.3,1408 1125.6,1424.7 1124.6,1436.4 1123.9,1445.4 1123.2,1456.9 1121.8,1473.7 1120.4,1493" fill="#84e40c"/>
</g></g>
<g clip-path="url(#clipD)" stroke="#ffffff" stroke-opacity="0.55" stroke-width="1.3">
<line x1="1264.4" y1="946.6" x2="1264.4" y2="1615"/>
<line x1="1411.8" y1="946.6" x2="1411.8" y2="1615"/>
<line x1="1558.6" y1="946.6" x2="1558.6" y2="1615"/>
<line x1="1705.5" y1="946.6" x2="1705.5" y2="1615"/>
<line x1="1118.7" y1="1045.3" x2="1823.5" y2="1045.3"/>
<line x1="1118.7" y1="1236" x2="1823.5" y2="1236"/>
<line x1="1118.7" y1="1423.8" x2="1823.5" y2="1423.8"/>
</g>
<rect x="1118.7" y="946.6" width="704.8" height="668.4" fill="none" stroke="#000" stroke-width="1.8"/>
<text x="1116" y="915" font-size="21.8" text-anchor="start">Efficiency Map</text>
<text x="1116" y="941" font-size="21.8" text-anchor="start">Turbine part Turbine</text>
<text x="1107" y="955.1" font-size="21.8" text-anchor="end">0.01762</text>
<text x="1107" y="1053.8" font-size="21.8" text-anchor="end">0.01500</text>
<text x="1107" y="1244.5" font-size="21.8" text-anchor="end">0.01000</text>
<text x="1107" y="1432.3" font-size="21.8" text-anchor="end">0.00500</text>
<text x="1107" y="1623.5" font-size="21.8" text-anchor="end">0.00000</text>
<text x="1118.7" y="1640.5" font-size="21.8" text-anchor="middle">1.0</text>
<text x="1264.4" y="1640.5" font-size="21.8" text-anchor="middle">1.5</text>
<text x="1411.8" y="1640.5" font-size="21.8" text-anchor="middle">2.0</text>
<text x="1558.6" y="1640.5" font-size="21.8" text-anchor="middle">2.5</text>
<text x="1705.5" y="1640.5" font-size="21.8" text-anchor="middle">3.0</text>
<text x="1823.5" y="1640.5" font-size="21.8" text-anchor="middle">3.4</text>
<text x="1467" y="1677" font-size="21.8" text-anchor="middle">Pressure Ratio</text>
<text transform="translate(990.5,1284) rotate(-90)" font-size="21.8" text-anchor="middle">Reduced Mass Flow Rate [(kg/s)-K^0.5/kPa]</text>
<rect x="1838" y="967.5" width="45" height="41.3" fill="#00006a"/>
<rect x="1838" y="1008.3" width="45" height="41.3" fill="#0000f0"/>
<rect x="1838" y="1049.2" width="45" height="41.3" fill="#0a50f0"/>
<rect x="1838" y="1090" width="45" height="41.3" fill="#18a8f8"/>
<rect x="1838" y="1130.8" width="45" height="41.3" fill="#00e0ff"/>
<rect x="1838" y="1171.7" width="45" height="41.3" fill="#00f4b4"/>
<rect x="1838" y="1212.5" width="45" height="41.3" fill="#14d860"/>
<rect x="1838" y="1253.3" width="45" height="41.3" fill="#3cdc08"/>
<rect x="1838" y="1294.2" width="45" height="41.3" fill="#84e40c"/>
<rect x="1838" y="1335" width="45" height="41.3" fill="#ffff00"/>
<rect x="1838" y="1375.8" width="45" height="41.3" fill="#ffd80c"/>
<rect x="1838" y="1416.7" width="45" height="41.3" fill="#ff8808"/>
<rect x="1838" y="1457.5" width="45" height="41.3" fill="#ff5404"/>
<rect x="1838" y="1498.3" width="45" height="41.3" fill="#f00000"/>
<rect x="1838" y="1539.2" width="45" height="41.3" fill="#c40000"/>
<text x="1887" y="977" font-size="21.8" text-anchor="start">10.0</text>
<text x="1887" y="1017.8" font-size="21.8" text-anchor="start">14.4</text>
<text x="1887" y="1058.7" font-size="21.8" text-anchor="start">18.8</text>
<text x="1887" y="1099.5" font-size="21.8" text-anchor="start">23.2</text>
<text x="1887" y="1140.3" font-size="21.8" text-anchor="start">27.6</text>
<text x="1887" y="1181.2" font-size="21.8" text-anchor="start">32.0</text>
<text x="1887" y="1222" font-size="21.8" text-anchor="start">36.4</text>
<text x="1887" y="1262.8" font-size="21.8" text-anchor="start">40.8</text>
<text x="1887" y="1303.7" font-size="21.8" text-anchor="start">45.2</text>
<text x="1887" y="1344.5" font-size="21.8" text-anchor="start">49.6</text>
<text x="1887" y="1385.3" font-size="21.8" text-anchor="start">54.0</text>
<text x="1887" y="1426.2" font-size="21.8" text-anchor="start">58.4</text>
<text x="1887" y="1467" font-size="21.8" text-anchor="start">62.8</text>
<text x="1887" y="1507.8" font-size="21.8" text-anchor="start">67.2</text>
<text x="1887" y="1548.7" font-size="21.8" text-anchor="start">71.6</text>
<text x="1887" y="1589.5" font-size="21.8" text-anchor="start">76.0</text>
<text transform="translate(965.8,1736) scale(0.91,1)" font-size="32.8" class="lab">(d)</text>
</svg>
</body></html>
